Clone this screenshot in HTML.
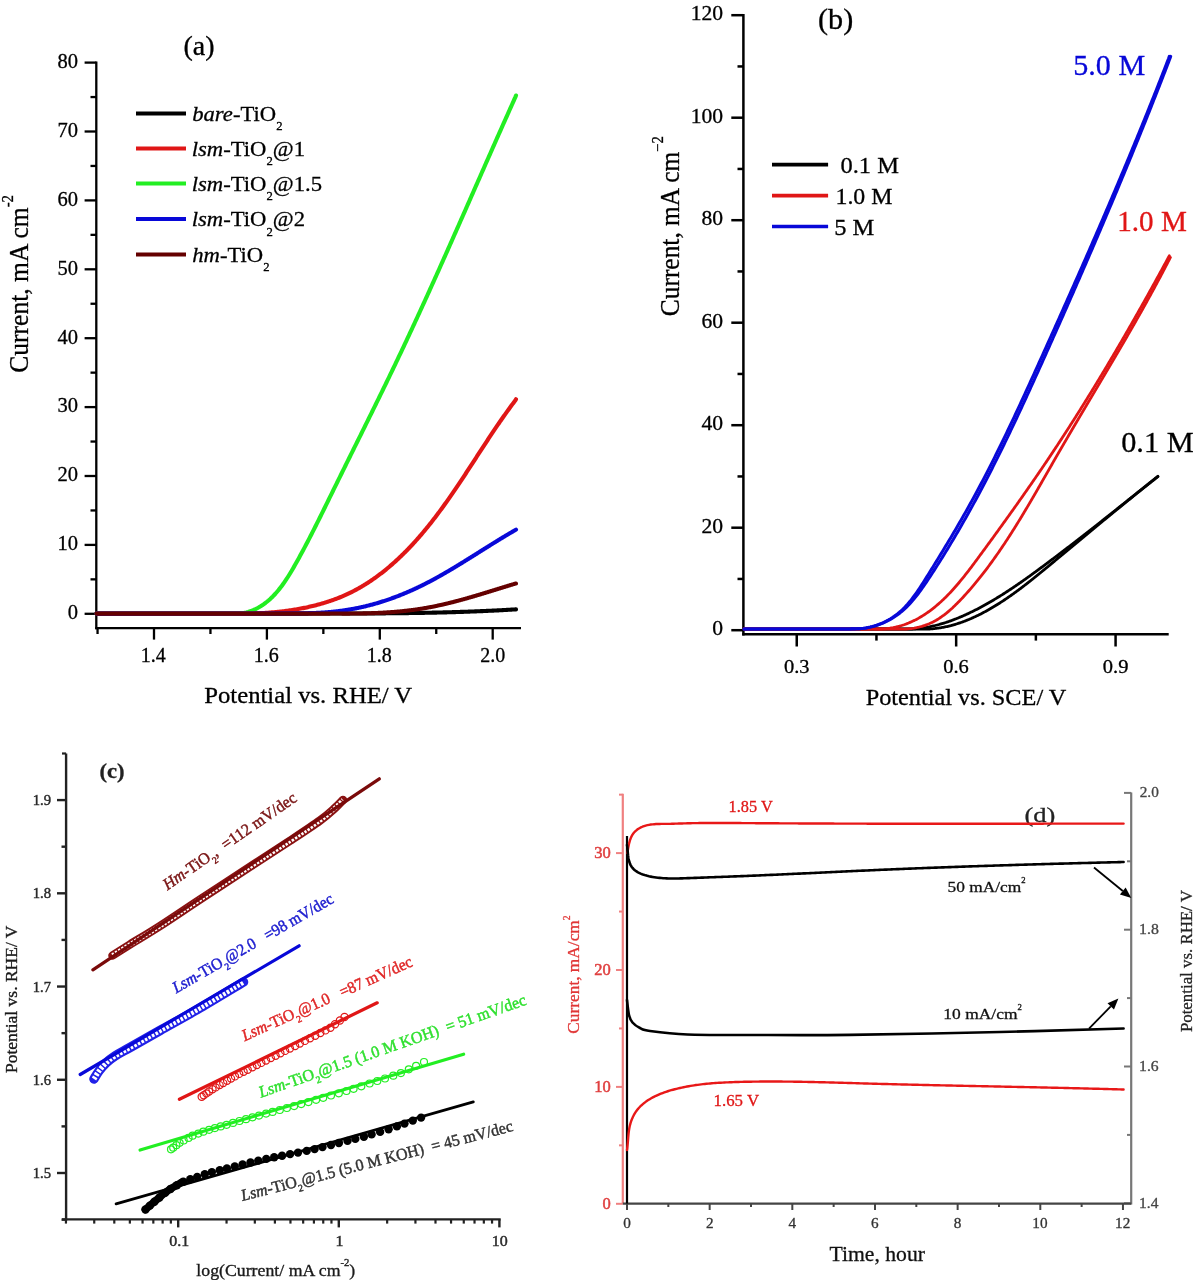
<!DOCTYPE html>
<html><head><meta charset="utf-8"><style>
html,body{margin:0;padding:0;background:#fff;}
body{width:1198px;height:1280px;overflow:hidden;}
svg{display:block;font-family:"Liberation Serif",serif;filter:blur(0.4px);}
</style></head><body>
<svg width="1198" height="1280" viewBox="0 0 1198 1280">
<rect width="1198" height="1280" fill="#fff"/>
<line x1="96.30" y1="61.50" x2="96.30" y2="629.30" stroke="#000" stroke-width="2.3" stroke-linecap="butt" />
<line x1="95.20" y1="628.20" x2="521.00" y2="628.20" stroke="#000" stroke-width="2.3" stroke-linecap="butt" />
<line x1="84.60" y1="613.80" x2="96.30" y2="613.80" stroke="#000" stroke-width="2.3" stroke-linecap="butt" />
<line x1="84.60" y1="544.90" x2="96.30" y2="544.90" stroke="#000" stroke-width="2.3" stroke-linecap="butt" />
<line x1="84.60" y1="476.00" x2="96.30" y2="476.00" stroke="#000" stroke-width="2.3" stroke-linecap="butt" />
<line x1="84.60" y1="407.10" x2="96.30" y2="407.10" stroke="#000" stroke-width="2.3" stroke-linecap="butt" />
<line x1="84.60" y1="338.20" x2="96.30" y2="338.20" stroke="#000" stroke-width="2.3" stroke-linecap="butt" />
<line x1="84.60" y1="269.30" x2="96.30" y2="269.30" stroke="#000" stroke-width="2.3" stroke-linecap="butt" />
<line x1="84.60" y1="200.40" x2="96.30" y2="200.40" stroke="#000" stroke-width="2.3" stroke-linecap="butt" />
<line x1="84.60" y1="131.50" x2="96.30" y2="131.50" stroke="#000" stroke-width="2.3" stroke-linecap="butt" />
<line x1="84.60" y1="62.60" x2="96.30" y2="62.60" stroke="#000" stroke-width="2.3" stroke-linecap="butt" />
<line x1="90.50" y1="579.35" x2="96.30" y2="579.35" stroke="#000" stroke-width="2.3" stroke-linecap="butt" />
<line x1="90.50" y1="510.45" x2="96.30" y2="510.45" stroke="#000" stroke-width="2.3" stroke-linecap="butt" />
<line x1="90.50" y1="441.55" x2="96.30" y2="441.55" stroke="#000" stroke-width="2.3" stroke-linecap="butt" />
<line x1="90.50" y1="372.65" x2="96.30" y2="372.65" stroke="#000" stroke-width="2.3" stroke-linecap="butt" />
<line x1="90.50" y1="303.75" x2="96.30" y2="303.75" stroke="#000" stroke-width="2.3" stroke-linecap="butt" />
<line x1="90.50" y1="234.85" x2="96.30" y2="234.85" stroke="#000" stroke-width="2.3" stroke-linecap="butt" />
<line x1="90.50" y1="165.95" x2="96.30" y2="165.95" stroke="#000" stroke-width="2.3" stroke-linecap="butt" />
<line x1="90.50" y1="97.05" x2="96.30" y2="97.05" stroke="#000" stroke-width="2.3" stroke-linecap="butt" />
<line x1="154.00" y1="628.20" x2="154.00" y2="639.60" stroke="#000" stroke-width="2.3" stroke-linecap="butt" />
<line x1="266.90" y1="628.20" x2="266.90" y2="639.60" stroke="#000" stroke-width="2.3" stroke-linecap="butt" />
<line x1="379.80" y1="628.20" x2="379.80" y2="639.60" stroke="#000" stroke-width="2.3" stroke-linecap="butt" />
<line x1="492.70" y1="628.20" x2="492.70" y2="639.60" stroke="#000" stroke-width="2.3" stroke-linecap="butt" />
<line x1="97.55" y1="628.20" x2="97.55" y2="634.00" stroke="#000" stroke-width="2.3" stroke-linecap="butt" />
<line x1="210.45" y1="628.20" x2="210.45" y2="634.00" stroke="#000" stroke-width="2.3" stroke-linecap="butt" />
<line x1="323.35" y1="628.20" x2="323.35" y2="634.00" stroke="#000" stroke-width="2.3" stroke-linecap="butt" />
<line x1="436.25" y1="628.20" x2="436.25" y2="634.00" stroke="#000" stroke-width="2.3" stroke-linecap="butt" />
<text transform="translate(68.69,619.12) scale(1.0000,1) translate(-0.82,0)" font-size="20.50" fill="#000" stroke="#000" stroke-width="0.3"><tspan >0</tspan></text>
<text transform="translate(59.36,550.22) scale(1.0000,1) translate(-1.74,0)" font-size="20.50" fill="#000" stroke="#000" stroke-width="0.3"><tspan >10</tspan></text>
<text transform="translate(58.54,481.32) scale(1.0000,1) translate(-0.92,0)" font-size="20.50" fill="#000" stroke="#000" stroke-width="0.3"><tspan >20</tspan></text>
<text transform="translate(58.54,412.42) scale(1.0000,1) translate(-0.92,0)" font-size="20.50" fill="#000" stroke="#000" stroke-width="0.3"><tspan >30</tspan></text>
<text transform="translate(58.03,343.52) scale(1.0000,1) translate(-0.41,0)" font-size="20.50" fill="#000" stroke="#000" stroke-width="0.3"><tspan >40</tspan></text>
<text transform="translate(58.85,274.62) scale(1.0000,1) translate(-1.23,0)" font-size="20.50" fill="#000" stroke="#000" stroke-width="0.3"><tspan >50</tspan></text>
<text transform="translate(58.44,205.72) scale(1.0000,1) translate(-0.82,0)" font-size="20.50" fill="#000" stroke="#000" stroke-width="0.3"><tspan >60</tspan></text>
<text transform="translate(58.95,136.82) scale(1.0000,1) translate(-1.33,0)" font-size="20.50" fill="#000" stroke="#000" stroke-width="0.3"><tspan >70</tspan></text>
<text transform="translate(58.44,67.92) scale(1.0000,1) translate(-0.82,0)" font-size="20.50" fill="#000" stroke="#000" stroke-width="0.3"><tspan >80</tspan></text>
<text transform="translate(142.50,662.00) scale(1.0000,1) translate(-1.70,0)" font-size="20.00" fill="#000" stroke="#000" stroke-width="0.3"><tspan >1.4</tspan></text>
<text transform="translate(255.55,662.00) scale(1.0000,1) translate(-1.70,0)" font-size="20.00" fill="#000" stroke="#000" stroke-width="0.3"><tspan >1.6</tspan></text>
<text transform="translate(368.55,662.00) scale(1.0000,1) translate(-1.70,0)" font-size="20.00" fill="#000" stroke="#000" stroke-width="0.3"><tspan >1.8</tspan></text>
<text transform="translate(481.05,662.00) scale(1.0000,1) translate(-0.90,0)" font-size="20.00" fill="#000" stroke="#000" stroke-width="0.3"><tspan >2.0</tspan></text>
<text transform="translate(205.00,702.60) scale(1.0373,1) translate(-0.71,0)" font-size="23.80" fill="#000" stroke="#000" stroke-width="0.3"><tspan >Potential vs. RHE/ V</tspan></text>
<text transform="translate(28.40,371.80) rotate(-90.00) scale(0.9300,1) translate(-1.10,0)" font-size="27.50" fill="#000" stroke="#000" stroke-width="0.3"><tspan >Current, mA cm</tspan><tspan font-size="15.95" dy="-15.13">-2</tspan></text>
<text transform="translate(184.70,55.30) scale(1.0385,1) translate(-1.21,0)" font-size="27.00" fill="#000" stroke="#000" stroke-width="0.3"><tspan >(a)</tspan></text>
<line x1="136.00" y1="113.60" x2="186.00" y2="113.60" stroke="#000" stroke-width="4" stroke-linecap="butt" />
<text transform="translate(193.00,121.00) scale(1.0300,1) translate(-0.77,0)" font-size="22.00" fill="#000" stroke="#000" stroke-width="0.3"><tspan font-style="italic">bare</tspan><tspan >-TiO</tspan><tspan font-size="12.32" dy="9.24">2</tspan></text>
<line x1="136.00" y1="148.60" x2="186.00" y2="148.60" stroke="#e01616" stroke-width="4" stroke-linecap="butt" />
<text transform="translate(193.00,156.00) scale(1.0300,1) translate(-1.21,0)" font-size="22.00" fill="#000" stroke="#000" stroke-width="0.3"><tspan font-style="italic">lsm</tspan><tspan >-TiO</tspan><tspan font-size="12.32" dy="9.24">2</tspan><tspan dy="-9.24">@1</tspan></text>
<line x1="136.00" y1="183.40" x2="186.00" y2="183.40" stroke="#22ee22" stroke-width="4" stroke-linecap="butt" />
<text transform="translate(193.00,190.80) scale(1.0300,1) translate(-1.21,0)" font-size="22.00" fill="#000" stroke="#000" stroke-width="0.3"><tspan font-style="italic">lsm</tspan><tspan >-TiO</tspan><tspan font-size="12.32" dy="9.24">2</tspan><tspan dy="-9.24">@1.5</tspan></text>
<line x1="136.00" y1="219.00" x2="186.00" y2="219.00" stroke="#0808d8" stroke-width="4" stroke-linecap="butt" />
<text transform="translate(193.00,226.40) scale(1.0300,1) translate(-1.21,0)" font-size="22.00" fill="#000" stroke="#000" stroke-width="0.3"><tspan font-style="italic">lsm</tspan><tspan >-TiO</tspan><tspan font-size="12.32" dy="9.24">2</tspan><tspan dy="-9.24">@2</tspan></text>
<line x1="136.00" y1="254.40" x2="186.00" y2="254.40" stroke="#640000" stroke-width="4" stroke-linecap="butt" />
<text transform="translate(193.00,261.80) scale(1.0300,1) translate(-0.77,0)" font-size="22.00" fill="#000" stroke="#000" stroke-width="0.3"><tspan font-style="italic">hm</tspan><tspan >-TiO</tspan><tspan font-size="12.32" dy="9.24">2</tspan></text>
<path d="M96.50,613.60 L300.00,613.60 L300.00,613.60 L300.72,613.59 L301.45,613.59 L302.17,613.58 L302.89,613.58 L303.61,613.58 L304.34,613.58 L305.06,613.58 L305.78,613.58 L306.50,613.58 L307.23,613.58 L307.95,613.58 L308.67,613.57 L309.39,613.57 L310.12,613.57 L310.84,613.57 L311.56,613.57 L312.29,613.57 L313.01,613.57 L313.73,613.57 L314.45,613.57 L315.18,613.57 L315.90,613.57 L316.62,613.56 L317.34,613.56 L318.07,613.56 L318.79,613.56 L319.51,613.56 L320.23,613.56 L320.96,613.56 L321.68,613.56 L322.40,613.56 L323.13,613.56 L323.85,613.56 L324.57,613.55 L325.29,613.55 L326.02,613.55 L326.74,613.55 L327.46,613.55 L328.18,613.55 L328.91,613.55 L329.63,613.55 L330.35,613.55 L331.07,613.55 L331.80,613.54 L332.52,613.54 L333.24,613.54 L333.97,613.54 L334.69,613.54 L335.41,613.54 L336.13,613.54 L336.86,613.54 L337.58,613.54 L338.30,613.53 L339.02,613.53 L339.75,613.53 L340.47,613.53 L341.19,613.53 L341.91,613.53 L342.64,613.53 L343.36,613.52 L344.08,613.52 L344.81,613.52 L345.53,613.52 L346.25,613.52 L346.97,613.52 L347.70,613.51 L348.42,613.51 L349.14,613.51 L349.86,613.51 L350.59,613.51 L351.31,613.50 L352.03,613.50 L352.76,613.50 L353.48,613.50 L354.20,613.50 L354.92,613.49 L355.65,613.49 L356.37,613.49 L357.09,613.49 L357.81,613.48 L358.54,613.48 L359.26,613.48 L359.98,613.48 L360.70,613.47 L361.43,613.47 L362.15,613.47 L362.87,613.46 L363.60,613.46 L364.32,613.46 L365.04,613.46 L365.76,613.45 L366.49,613.45 L367.21,613.45 L367.93,613.44 L368.65,613.44 L369.38,613.43 L370.10,613.43 L370.82,613.43 L371.54,613.42 L372.27,613.42 L372.99,613.41 L373.71,613.41 L374.44,613.41 L375.16,613.40 L375.88,613.40 L376.60,613.39 L377.33,613.39 L378.05,613.38 L378.77,613.38 L379.49,613.37 L380.22,613.37 L380.94,613.36 L381.66,613.36 L382.38,613.35 L383.11,613.35 L383.83,613.34 L384.55,613.34 L385.28,613.33 L386.00,613.32 L386.72,613.32 L387.44,613.31 L388.17,613.31 L388.89,613.30 L389.61,613.29 L390.33,613.29 L391.06,613.28 L391.78,613.27 L392.50,613.27 L393.22,613.26 L393.95,613.25 L394.67,613.25 L395.39,613.24 L396.11,613.23 L396.84,613.22 L397.56,613.22 L398.28,613.21 L399.00,613.20 L399.73,613.19 L400.45,613.18 L401.17,613.17 L401.89,613.17 L402.62,613.16 L403.34,613.15 L404.06,613.14 L404.79,613.13 L405.51,613.12 L406.23,613.11 L406.95,613.10 L407.68,613.09 L408.40,613.08 L409.12,613.07 L409.84,613.06 L410.57,613.05 L411.29,613.04 L412.01,613.03 L412.73,613.02 L413.46,613.01 L414.18,613.00 L414.90,612.99 L415.62,612.98 L416.35,612.97 L417.07,612.95 L417.79,612.94 L418.51,612.93 L419.24,612.92 L419.96,612.91 L420.68,612.89 L421.40,612.88 L422.13,612.87 L422.85,612.85 L423.57,612.84 L424.29,612.83 L425.02,612.82 L425.74,612.80 L426.46,612.79 L427.18,612.77 L427.91,612.76 L428.63,612.75 L429.35,612.73 L430.07,612.72 L430.79,612.70 L431.52,612.69 L432.24,612.67 L432.96,612.66 L433.68,612.64 L434.41,612.62 L435.13,612.61 L435.85,612.59 L436.57,612.58 L437.30,612.56 L438.02,612.54 L438.74,612.53 L439.46,612.51 L440.19,612.49 L440.91,612.47 L441.63,612.46 L442.35,612.44 L443.08,612.42 L443.80,612.40 L444.52,612.38 L445.24,612.36 L445.96,612.35 L446.69,612.33 L447.41,612.31 L448.13,612.29 L448.85,612.27 L449.58,612.25 L450.30,612.23 L451.02,612.21 L451.74,612.19 L452.47,612.17 L453.19,612.14 L453.91,612.12 L454.63,612.10 L455.35,612.08 L456.08,612.06 L456.80,612.04 L457.52,612.01 L458.24,611.99 L458.97,611.97 L459.69,611.95 L460.41,611.92 L461.13,611.90 L461.85,611.87 L462.58,611.85 L463.30,611.83 L464.02,611.80 L464.74,611.78 L465.47,611.75 L466.19,611.73 L466.91,611.70 L467.63,611.68 L468.35,611.65 L469.08,611.62 L469.80,611.60 L470.52,611.57 L471.24,611.54 L471.96,611.52 L472.69,611.49 L473.41,611.46 L474.13,611.43 L474.85,611.41 L475.57,611.38 L476.30,611.35 L477.02,611.32 L477.74,611.29 L478.46,611.26 L479.19,611.23 L479.91,611.20 L480.63,611.17 L481.35,611.14 L482.07,611.11 L482.80,611.08 L483.52,611.05 L484.24,611.02 L484.96,610.99 L485.68,610.95 L486.41,610.92 L487.13,610.89 L487.85,610.86 L488.57,610.82 L489.29,610.79 L490.01,610.76 L490.74,610.72 L491.46,610.69 L492.18,610.65 L492.90,610.62 L493.62,610.58 L494.35,610.55 L495.07,610.51 L495.79,610.48 L496.51,610.44 L497.23,610.40 L497.96,610.37 L498.68,610.33 L499.40,610.29 L500.12,610.25 L500.84,610.22 L501.56,610.18 L502.29,610.14 L503.01,610.10 L503.73,610.06 L504.45,610.02 L505.17,609.98 L505.90,609.94 L506.62,609.90 L507.34,609.86 L508.06,609.82 L508.78,609.78 L509.50,609.74 L510.23,609.69 L510.95,609.65 L511.67,609.61 L512.39,609.57 L513.11,609.52 L513.83,609.48 L514.56,609.44 L515.28,609.39 L516.00,609.40" fill="none" stroke="#000" stroke-width="4.1" stroke-linecap="round" stroke-linejoin="round" />
<path d="M96.50,613.60 L232.00,613.60 L232.00,613.60 L233.98,613.61 L236.11,613.63 L238.21,613.56 L240.27,613.40 L242.29,613.15 L244.28,612.81 L246.23,612.39 L248.15,611.89 L250.03,611.30 L251.88,610.65 L253.69,609.92 L255.47,609.11 L257.21,608.24 L258.92,607.31 L260.59,606.31 L262.24,605.26 L263.85,604.14 L265.42,602.98 L266.97,601.76 L268.48,600.49 L269.96,599.18 L271.41,597.82 L272.83,596.42 L274.21,594.98 L275.57,593.51 L276.89,592.01 L278.19,590.47 L279.46,588.90 L280.71,587.31 L281.93,585.69 L283.12,584.04 L284.30,582.37 L285.45,580.68 L286.59,578.97 L287.70,577.25 L288.80,575.51 L289.88,573.75 L290.95,571.99 L292.00,570.21 L293.04,568.42 L294.07,566.63 L295.09,564.84 L296.11,563.04 L297.11,561.24 L298.11,559.44 L299.10,557.64 L300.08,555.84 L301.06,554.04 L302.03,552.24 L303.00,550.44 L303.96,548.64 L304.92,546.84 L305.87,545.04 L306.81,543.24 L307.76,541.44 L308.69,539.64 L309.62,537.84 L310.55,536.04 L311.48,534.24 L312.40,532.44 L313.31,530.64 L314.22,528.84 L315.13,527.04 L316.04,525.23 L316.94,523.43 L317.84,521.63 L318.74,519.83 L319.64,518.03 L320.53,516.23 L321.43,514.43 L322.32,512.63 L323.20,510.82 L324.09,509.02 L324.98,507.22 L325.86,505.42 L326.75,503.62 L327.63,501.81 L328.52,500.01 L329.40,498.21 L330.28,496.41 L331.17,494.60 L332.05,492.80 L332.94,491.00 L333.82,489.20 L334.71,487.39 L335.59,485.59 L336.48,483.79 L337.37,481.98 L338.26,480.18 L339.15,478.38 L340.04,476.57 L340.93,474.77 L341.82,472.97 L342.71,471.16 L343.60,469.36 L344.50,467.55 L345.39,465.75 L346.28,463.94 L347.18,462.14 L348.07,460.33 L348.96,458.53 L349.86,456.72 L350.75,454.92 L351.65,453.11 L352.54,451.31 L353.44,449.50 L354.34,447.69 L355.23,445.89 L356.13,444.08 L357.02,442.27 L357.92,440.47 L358.82,438.66 L359.71,436.85 L360.61,435.04 L361.50,433.23 L362.40,431.43 L363.29,429.62 L364.19,427.81 L365.09,426.00 L365.98,424.19 L366.88,422.38 L367.77,420.57 L368.66,418.76 L369.56,416.95 L370.45,415.14 L371.35,413.32 L372.24,411.51 L373.13,409.70 L374.02,407.89 L374.92,406.08 L375.81,404.26 L376.70,402.45 L377.59,400.64 L378.48,398.82 L379.37,397.01 L380.25,395.19 L381.14,393.38 L382.03,391.56 L382.92,389.74 L383.80,387.93 L384.69,386.11 L385.57,384.29 L386.45,382.48 L387.33,380.66 L388.22,378.84 L389.10,377.02 L389.98,375.20 L390.85,373.38 L391.73,371.56 L392.61,369.74 L393.48,367.92 L394.36,366.10 L395.23,364.28 L396.10,362.46 L396.98,360.63 L397.85,358.81 L398.71,356.99 L399.58,355.16 L400.45,353.34 L401.31,351.51 L402.18,349.69 L403.04,347.86 L403.90,346.03 L404.76,344.21 L405.62,342.38 L406.48,340.55 L407.34,338.72 L408.19,336.89 L409.05,335.06 L409.90,333.23 L410.76,331.40 L411.61,329.57 L412.46,327.74 L413.31,325.91 L414.16,324.08 L415.00,322.25 L415.85,320.42 L416.70,318.58 L417.54,316.75 L418.39,314.92 L419.23,313.08 L420.07,311.25 L420.91,309.41 L421.75,307.58 L422.59,305.74 L423.43,303.91 L424.27,302.07 L425.11,300.24 L425.94,298.40 L426.78,296.56 L427.61,294.72 L428.45,292.89 L429.28,291.05 L430.11,289.21 L430.95,287.37 L431.78,285.53 L432.61,283.69 L433.44,281.85 L434.27,280.02 L435.09,278.18 L435.92,276.34 L436.75,274.49 L437.57,272.65 L438.40,270.81 L439.23,268.97 L440.05,267.13 L440.87,265.29 L441.70,263.45 L442.52,261.60 L443.34,259.76 L444.17,257.92 L444.99,256.08 L445.81,254.23 L446.63,252.39 L447.45,250.55 L448.27,248.70 L449.09,246.86 L449.91,245.02 L450.72,243.17 L451.54,241.33 L452.36,239.48 L453.18,237.64 L453.99,235.79 L454.81,233.95 L455.63,232.10 L456.44,230.26 L457.26,228.41 L458.07,226.57 L458.89,224.72 L459.70,222.88 L460.52,221.03 L461.33,219.19 L462.15,217.34 L462.96,215.49 L463.77,213.65 L464.59,211.80 L465.40,209.96 L466.21,208.11 L467.03,206.26 L467.84,204.42 L468.65,202.57 L469.47,200.72 L470.28,198.88 L471.09,197.03 L471.90,195.18 L472.72,193.34 L473.53,191.49 L474.34,189.64 L475.15,187.79 L475.97,185.95 L476.78,184.10 L477.59,182.25 L478.41,180.41 L479.22,178.56 L480.03,176.71 L480.84,174.87 L481.66,173.02 L482.47,171.17 L483.28,169.32 L484.10,167.48 L484.91,165.63 L485.72,163.78 L486.54,161.94 L487.35,160.09 L488.17,158.24 L488.98,156.40 L489.80,154.55 L490.61,152.70 L491.43,150.86 L492.24,149.01 L493.06,147.17 L493.87,145.32 L494.69,143.47 L495.51,141.63 L496.33,139.78 L497.14,137.94 L497.96,136.09 L498.78,134.25 L499.60,132.40 L500.42,130.56 L501.24,128.71 L502.06,126.87 L502.88,125.02 L503.70,123.18 L504.52,121.33 L505.34,119.49 L506.17,117.64 L506.99,115.80 L507.81,113.96 L508.64,112.11 L509.46,110.27 L510.29,108.43 L511.11,106.58 L511.94,104.74 L512.77,102.90 L513.59,101.06 L514.42,99.21 L515.25,97.37 L516.00,95.50" fill="none" stroke="#22ee22" stroke-width="4.1" stroke-linecap="round" stroke-linejoin="round" />
<path d="M96.50,613.60 L250.00,613.60 L250.00,613.60 L251.21,613.54 L252.41,613.51 L253.61,613.47 L254.81,613.42 L256.01,613.38 L257.21,613.33 L258.42,613.27 L259.62,613.21 L260.83,613.15 L262.03,613.09 L263.24,613.02 L264.45,612.94 L265.66,612.87 L266.87,612.78 L268.08,612.70 L269.29,612.61 L270.50,612.51 L271.71,612.41 L272.92,612.31 L274.13,612.20 L275.34,612.09 L276.55,611.97 L277.76,611.85 L278.97,611.72 L280.19,611.59 L281.40,611.46 L282.61,611.32 L283.82,611.17 L285.03,611.02 L286.24,610.86 L287.44,610.70 L288.65,610.54 L289.86,610.36 L291.06,610.19 L292.27,610.01 L293.47,609.82 L294.68,609.62 L295.88,609.43 L297.08,609.22 L298.28,609.01 L299.48,608.80 L300.68,608.58 L301.87,608.35 L303.07,608.12 L304.26,607.88 L305.45,607.64 L306.64,607.39 L307.83,607.13 L309.02,606.87 L310.20,606.60 L311.38,606.32 L312.56,606.04 L313.74,605.75 L314.92,605.46 L316.09,605.16 L317.26,604.85 L318.43,604.54 L319.60,604.22 L320.76,603.89 L321.92,603.56 L323.08,603.22 L324.24,602.87 L325.39,602.52 L326.54,602.16 L327.69,601.79 L328.83,601.42 L329.98,601.03 L331.11,600.65 L332.25,600.25 L333.38,599.85 L334.51,599.43 L335.64,599.02 L336.76,598.59 L337.88,598.16 L338.99,597.72 L340.10,597.27 L341.21,596.81 L342.31,596.35 L343.41,595.88 L344.51,595.40 L345.60,594.91 L346.69,594.41 L347.77,593.91 L348.85,593.40 L349.92,592.88 L350.99,592.35 L352.06,591.82 L353.12,591.28 L354.18,590.73 L355.24,590.17 L356.29,589.61 L357.33,589.03 L358.38,588.45 L359.41,587.87 L360.45,587.27 L361.48,586.67 L362.50,586.06 L363.53,585.45 L364.54,584.83 L365.56,584.20 L366.57,583.56 L367.57,582.92 L368.58,582.27 L369.57,581.61 L370.57,580.95 L371.56,580.28 L372.55,579.61 L373.53,578.93 L374.51,578.24 L375.48,577.55 L376.45,576.85 L377.42,576.14 L378.38,575.43 L379.34,574.72 L380.30,573.99 L381.25,573.26 L382.20,572.53 L383.14,571.79 L384.08,571.04 L385.02,570.29 L385.95,569.54 L386.88,568.78 L387.80,568.01 L388.73,567.24 L389.64,566.46 L390.56,565.68 L391.47,564.89 L392.37,564.10 L393.28,563.31 L394.18,562.50 L395.07,561.70 L395.96,560.89 L396.85,560.07 L397.74,559.25 L398.62,558.43 L399.49,557.60 L400.37,556.77 L401.24,555.93 L402.10,555.09 L402.97,554.25 L403.83,553.40 L404.68,552.55 L405.53,551.69 L406.38,550.83 L407.23,549.97 L408.07,549.10 L408.91,548.23 L409.74,547.36 L410.57,546.48 L411.40,545.60 L412.23,544.72 L413.05,543.83 L413.86,542.94 L414.68,542.04 L415.49,541.15 L416.30,540.25 L417.10,539.35 L417.90,538.44 L418.70,537.53 L419.49,536.62 L420.28,535.71 L421.07,534.80 L421.85,533.88 L422.63,532.96 L423.41,532.03 L424.19,531.11 L424.96,530.18 L425.73,529.25 L426.49,528.31 L427.25,527.38 L428.02,526.44 L428.77,525.50 L429.53,524.56 L430.28,523.61 L431.03,522.66 L431.78,521.72 L432.52,520.76 L433.26,519.81 L434.00,518.85 L434.74,517.90 L435.47,516.94 L436.20,515.97 L436.93,515.01 L437.66,514.05 L438.38,513.08 L439.11,512.11 L439.83,511.14 L440.54,510.16 L441.26,509.19 L441.97,508.21 L442.69,507.24 L443.40,506.26 L444.10,505.28 L444.81,504.29 L445.51,503.31 L446.22,502.32 L446.92,501.34 L447.61,500.35 L448.31,499.36 L449.01,498.37 L449.70,497.37 L450.39,496.38 L451.08,495.38 L451.77,494.39 L452.46,493.39 L453.15,492.39 L453.83,491.39 L454.51,490.39 L455.20,489.39 L455.88,488.39 L456.56,487.38 L457.23,486.38 L457.91,485.37 L458.59,484.37 L459.26,483.36 L459.93,482.35 L460.61,481.34 L461.28,480.33 L461.95,479.32 L462.62,478.31 L463.29,477.30 L463.96,476.29 L464.62,475.27 L465.29,474.26 L465.96,473.25 L466.62,472.23 L467.29,471.22 L467.95,470.20 L468.62,469.19 L469.28,468.17 L469.94,467.16 L470.60,466.14 L471.27,465.12 L471.93,464.11 L472.59,463.09 L473.25,462.07 L473.91,461.06 L474.57,460.04 L475.23,459.02 L475.89,458.01 L476.55,456.99 L477.21,455.97 L477.87,454.96 L478.53,453.94 L479.19,452.92 L479.86,451.91 L480.52,450.89 L481.18,449.88 L481.84,448.86 L482.50,447.85 L483.16,446.84 L483.82,445.82 L484.49,444.81 L485.15,443.80 L485.81,442.78 L486.48,441.77 L487.14,440.76 L487.81,439.75 L488.48,438.74 L489.14,437.73 L489.81,436.73 L490.48,435.72 L491.15,434.71 L491.82,433.71 L492.49,432.70 L493.16,431.70 L493.83,430.70 L494.51,429.69 L495.18,428.69 L495.86,427.70 L496.54,426.70 L497.21,425.70 L497.89,424.70 L498.58,423.71 L499.26,422.72 L499.94,421.72 L500.63,420.73 L501.31,419.74 L502.00,418.75 L502.69,417.77 L503.38,416.78 L504.07,415.80 L504.77,414.82 L505.46,413.84 L506.16,412.86 L506.86,411.88 L507.56,410.90 L508.26,409.93 L508.97,408.96 L509.67,407.99 L510.38,407.02 L511.09,406.05 L511.80,405.09 L512.52,404.12 L513.23,403.16 L513.95,402.20 L514.67,401.25 L515.40,400.29 L516.00,399.20" fill="none" stroke="#e01616" stroke-width="4.1" stroke-linecap="round" stroke-linejoin="round" />
<path d="M96.50,613.60 L300.00,613.40 L300.00,613.40 L300.75,613.22 L301.54,613.23 L302.34,613.23 L303.13,613.23 L303.92,613.22 L304.72,613.22 L305.51,613.21 L306.30,613.21 L307.09,613.20 L307.89,613.18 L308.68,613.17 L309.47,613.15 L310.26,613.13 L311.05,613.11 L311.85,613.09 L312.64,613.07 L313.43,613.04 L314.22,613.01 L315.01,612.98 L315.80,612.95 L316.59,612.92 L317.39,612.88 L318.18,612.84 L318.97,612.80 L319.76,612.76 L320.55,612.71 L321.34,612.67 L322.12,612.62 L322.91,612.57 L323.70,612.51 L324.49,612.46 L325.28,612.40 L326.07,612.34 L326.86,612.28 L327.64,612.22 L328.43,612.15 L329.22,612.08 L330.00,612.01 L330.79,611.94 L331.58,611.86 L332.36,611.78 L333.15,611.70 L333.93,611.62 L334.72,611.54 L335.50,611.45 L336.28,611.36 L337.07,611.27 L337.85,611.18 L338.63,611.08 L339.41,610.98 L340.20,610.88 L340.98,610.78 L341.76,610.68 L342.54,610.57 L343.32,610.46 L344.10,610.35 L344.88,610.23 L345.65,610.11 L346.43,609.99 L347.21,609.87 L347.99,609.75 L348.76,609.62 L349.54,609.49 L350.31,609.36 L351.09,609.23 L351.86,609.09 L352.63,608.95 L353.41,608.81 L354.18,608.67 L354.95,608.52 L355.72,608.37 L356.49,608.22 L357.26,608.06 L358.03,607.91 L358.80,607.75 L359.57,607.59 L360.34,607.42 L361.10,607.25 L361.87,607.08 L362.63,606.91 L363.40,606.74 L364.16,606.56 L364.93,606.38 L365.69,606.20 L366.45,606.01 L367.21,605.82 L367.97,605.63 L368.73,605.44 L369.49,605.25 L370.25,605.05 L371.01,604.85 L371.77,604.65 L372.52,604.44 L373.28,604.24 L374.03,604.03 L374.79,603.81 L375.54,603.60 L376.30,603.38 L377.05,603.16 L377.80,602.94 L378.55,602.72 L379.30,602.49 L380.05,602.26 L380.80,602.03 L381.55,601.80 L382.30,601.56 L383.04,601.32 L383.79,601.08 L384.53,600.84 L385.28,600.60 L386.02,600.35 L386.77,600.10 L387.51,599.85 L388.25,599.59 L388.99,599.34 L389.73,599.08 L390.47,598.82 L391.21,598.56 L391.95,598.29 L392.69,598.02 L393.42,597.75 L394.16,597.48 L394.90,597.21 L395.63,596.93 L396.36,596.65 L397.10,596.37 L397.83,596.09 L398.56,595.81 L399.29,595.52 L400.02,595.23 L400.75,594.94 L401.48,594.65 L402.21,594.35 L402.94,594.06 L403.66,593.76 L404.39,593.46 L405.11,593.15 L405.84,592.85 L406.56,592.54 L407.29,592.23 L408.01,591.92 L408.73,591.61 L409.45,591.29 L410.17,590.97 L410.89,590.65 L411.61,590.33 L412.32,590.01 L413.04,589.68 L413.76,589.36 L414.47,589.03 L415.19,588.70 L415.90,588.37 L416.61,588.03 L417.33,587.69 L418.04,587.36 L418.75,587.02 L419.46,586.67 L420.17,586.33 L420.87,585.98 L421.58,585.64 L422.29,585.29 L422.99,584.94 L423.70,584.58 L424.40,584.23 L425.11,583.87 L425.81,583.51 L426.51,583.15 L427.21,582.79 L427.91,582.43 L428.61,582.07 L429.31,581.70 L430.01,581.33 L430.71,580.96 L431.41,580.59 L432.11,580.22 L432.80,579.85 L433.50,579.47 L434.19,579.09 L434.89,578.72 L435.58,578.34 L436.27,577.96 L436.96,577.57 L437.66,577.19 L438.35,576.81 L439.04,576.42 L439.73,576.03 L440.42,575.65 L441.11,575.26 L441.79,574.87 L442.48,574.47 L443.17,574.08 L443.86,573.69 L444.54,573.29 L445.23,572.89 L445.91,572.50 L446.60,572.10 L447.28,571.70 L447.97,571.30 L448.65,570.90 L449.33,570.50 L450.02,570.09 L450.70,569.69 L451.38,569.28 L452.06,568.88 L452.74,568.47 L453.42,568.06 L454.10,567.66 L454.78,567.25 L455.46,566.84 L456.14,566.43 L456.82,566.02 L457.49,565.60 L458.17,565.19 L458.85,564.78 L459.53,564.36 L460.20,563.95 L460.88,563.53 L461.56,563.12 L462.23,562.70 L462.91,562.29 L463.58,561.87 L464.26,561.45 L464.93,561.03 L465.60,560.62 L466.28,560.20 L466.95,559.78 L467.63,559.36 L468.30,558.94 L468.97,558.52 L469.65,558.10 L470.32,557.68 L470.99,557.26 L471.66,556.84 L472.33,556.42 L473.01,555.99 L473.68,555.57 L474.35,555.15 L475.02,554.73 L475.69,554.31 L476.36,553.89 L477.03,553.46 L477.70,553.04 L478.38,552.62 L479.05,552.20 L479.72,551.78 L480.39,551.35 L481.06,550.93 L481.73,550.51 L482.40,550.09 L483.07,549.67 L483.74,549.25 L484.41,548.83 L485.08,548.41 L485.75,547.99 L486.42,547.56 L487.09,547.14 L487.76,546.73 L488.43,546.31 L489.10,545.89 L489.77,545.47 L490.44,545.05 L491.11,544.63 L491.78,544.22 L492.45,543.80 L493.12,543.38 L493.79,542.97 L494.46,542.55 L495.13,542.14 L495.80,541.72 L496.47,541.31 L497.14,540.90 L497.81,540.48 L498.48,540.07 L499.15,539.66 L499.82,539.25 L500.49,538.84 L501.17,538.43 L501.84,538.02 L502.51,537.62 L503.18,537.21 L503.85,536.80 L504.53,536.40 L505.20,535.99 L505.87,535.59 L506.54,535.19 L507.22,534.79 L507.89,534.39 L508.56,533.99 L509.24,533.59 L509.91,533.19 L510.59,532.80 L511.26,532.40 L511.94,532.01 L512.61,531.62 L513.29,531.22 L513.96,530.83 L514.64,530.44 L515.32,530.06 L516.00,529.60" fill="none" stroke="#0808d8" stroke-width="4.1" stroke-linecap="round" stroke-linejoin="round" />
<path d="M96.50,613.60 L330.00,613.60 L330.00,613.60 L330.62,613.48 L331.26,613.49 L331.89,613.50 L332.53,613.51 L333.17,613.51 L333.80,613.52 L334.44,613.52 L335.07,613.53 L335.71,613.54 L336.34,613.54 L336.98,613.55 L337.61,613.55 L338.25,613.56 L338.88,613.56 L339.52,613.56 L340.15,613.57 L340.79,613.57 L341.43,613.57 L342.06,613.58 L342.70,613.58 L343.33,613.58 L343.97,613.58 L344.60,613.58 L345.24,613.58 L345.87,613.58 L346.51,613.58 L347.14,613.58 L347.78,613.58 L348.42,613.58 L349.05,613.58 L349.69,613.58 L350.32,613.57 L350.96,613.57 L351.59,613.57 L352.23,613.56 L352.86,613.56 L353.50,613.55 L354.14,613.55 L354.77,613.54 L355.41,613.54 L356.04,613.53 L356.68,613.52 L357.31,613.51 L357.95,613.50 L358.58,613.50 L359.22,613.49 L359.85,613.48 L360.49,613.47 L361.12,613.45 L361.76,613.44 L362.39,613.43 L363.03,613.42 L363.66,613.40 L364.30,613.39 L364.93,613.37 L365.57,613.36 L366.20,613.34 L366.84,613.33 L367.47,613.31 L368.11,613.29 L368.74,613.27 L369.37,613.25 L370.01,613.23 L370.64,613.21 L371.28,613.19 L371.91,613.17 L372.55,613.15 L373.18,613.13 L373.81,613.10 L374.45,613.08 L375.08,613.05 L375.72,613.03 L376.35,613.00 L376.98,612.97 L377.62,612.94 L378.25,612.91 L378.88,612.88 L379.52,612.85 L380.15,612.82 L380.78,612.79 L381.42,612.76 L382.05,612.72 L382.68,612.69 L383.31,612.65 L383.95,612.62 L384.58,612.58 L385.21,612.54 L385.84,612.50 L386.48,612.46 L387.11,612.42 L387.74,612.38 L388.37,612.34 L389.00,612.30 L389.64,612.25 L390.27,612.21 L390.90,612.16 L391.53,612.11 L392.16,612.07 L392.79,612.02 L393.42,611.97 L394.05,611.92 L394.69,611.87 L395.32,611.81 L395.95,611.76 L396.58,611.71 L397.21,611.65 L397.84,611.59 L398.47,611.54 L399.10,611.48 L399.73,611.42 L400.36,611.36 L400.99,611.30 L401.61,611.24 L402.24,611.17 L402.87,611.11 L403.50,611.04 L404.13,610.98 L404.76,610.91 L405.39,610.84 L406.02,610.77 L406.64,610.70 L407.27,610.63 L407.90,610.55 L408.53,610.48 L409.15,610.40 L409.78,610.33 L410.41,610.25 L411.04,610.17 L411.66,610.09 L412.29,610.01 L412.92,609.93 L413.54,609.85 L414.17,609.76 L414.79,609.68 L415.42,609.59 L416.05,609.50 L416.67,609.41 L417.30,609.32 L417.92,609.23 L418.55,609.14 L419.17,609.04 L419.79,608.95 L420.42,608.85 L421.04,608.75 L421.67,608.65 L422.29,608.55 L422.91,608.45 L423.54,608.35 L424.16,608.24 L424.78,608.14 L425.41,608.03 L426.03,607.92 L426.65,607.81 L427.27,607.70 L427.90,607.59 L428.52,607.48 L429.14,607.36 L429.76,607.25 L430.38,607.13 L431.00,607.01 L431.62,606.89 L432.24,606.77 L432.86,606.65 L433.48,606.52 L434.10,606.40 L434.72,606.27 L435.34,606.14 L435.96,606.02 L436.58,605.89 L437.20,605.76 L437.82,605.62 L438.44,605.49 L439.05,605.36 L439.67,605.22 L440.29,605.09 L440.91,604.95 L441.53,604.81 L442.14,604.67 L442.76,604.53 L443.38,604.39 L444.00,604.24 L444.61,604.10 L445.23,603.96 L445.85,603.81 L446.46,603.66 L447.08,603.52 L447.69,603.37 L448.31,603.22 L448.93,603.07 L449.54,602.92 L450.16,602.76 L450.77,602.61 L451.39,602.46 L452.00,602.30 L452.62,602.15 L453.23,601.99 L453.84,601.83 L454.46,601.67 L455.07,601.51 L455.69,601.35 L456.30,601.19 L456.91,601.03 L457.53,600.87 L458.14,600.71 L458.75,600.54 L459.37,600.38 L459.98,600.21 L460.59,600.05 L461.21,599.88 L461.82,599.71 L462.43,599.54 L463.04,599.37 L463.66,599.20 L464.27,599.03 L464.88,598.86 L465.49,598.69 L466.10,598.52 L466.71,598.35 L467.33,598.17 L467.94,598.00 L468.55,597.83 L469.16,597.65 L469.77,597.48 L470.38,597.30 L470.99,597.12 L471.60,596.95 L472.21,596.77 L472.82,596.59 L473.43,596.41 L474.04,596.23 L474.65,596.05 L475.26,595.87 L475.87,595.69 L476.48,595.51 L477.09,595.33 L477.70,595.15 L478.31,594.97 L478.92,594.78 L479.53,594.60 L480.14,594.42 L480.75,594.24 L481.36,594.05 L481.97,593.87 L482.58,593.68 L483.19,593.50 L483.79,593.31 L484.40,593.13 L485.01,592.94 L485.62,592.76 L486.23,592.57 L486.84,592.39 L487.44,592.20 L488.05,592.01 L488.66,591.83 L489.27,591.64 L489.88,591.45 L490.49,591.26 L491.09,591.08 L491.70,590.89 L492.31,590.70 L492.92,590.51 L493.52,590.33 L494.13,590.14 L494.74,589.95 L495.35,589.76 L495.95,589.57 L496.56,589.39 L497.17,589.20 L497.78,589.01 L498.38,588.82 L498.99,588.63 L499.60,588.44 L500.20,588.26 L500.81,588.07 L501.42,587.88 L502.02,587.69 L502.63,587.50 L503.24,587.32 L503.84,587.13 L504.45,586.94 L505.06,586.75 L505.66,586.57 L506.27,586.38 L506.88,586.19 L507.48,586.00 L508.09,585.82 L508.70,585.63 L509.30,585.44 L509.91,585.26 L510.52,585.07 L511.12,584.89 L511.73,584.70 L512.34,584.52 L512.94,584.33 L513.55,584.15 L514.16,583.96 L514.76,583.78 L515.37,583.59 L516.00,583.50" fill="none" stroke="#640000" stroke-width="4.1" stroke-linecap="round" stroke-linejoin="round" />
<line x1="743.40" y1="14.00" x2="743.40" y2="635.50" stroke="#000" stroke-width="2.5" stroke-linecap="butt" />
<line x1="742.20" y1="634.30" x2="1168.70" y2="634.30" stroke="#000" stroke-width="2.5" stroke-linecap="butt" />
<line x1="731.30" y1="630.20" x2="743.40" y2="630.20" stroke="#000" stroke-width="2.5" stroke-linecap="butt" />
<line x1="731.30" y1="527.70" x2="743.40" y2="527.70" stroke="#000" stroke-width="2.5" stroke-linecap="butt" />
<line x1="731.30" y1="425.20" x2="743.40" y2="425.20" stroke="#000" stroke-width="2.5" stroke-linecap="butt" />
<line x1="731.30" y1="322.70" x2="743.40" y2="322.70" stroke="#000" stroke-width="2.5" stroke-linecap="butt" />
<line x1="731.30" y1="220.20" x2="743.40" y2="220.20" stroke="#000" stroke-width="2.5" stroke-linecap="butt" />
<line x1="731.30" y1="117.70" x2="743.40" y2="117.70" stroke="#000" stroke-width="2.5" stroke-linecap="butt" />
<line x1="731.30" y1="15.20" x2="743.40" y2="15.20" stroke="#000" stroke-width="2.5" stroke-linecap="butt" />
<line x1="737.50" y1="578.95" x2="743.40" y2="578.95" stroke="#000" stroke-width="2.5" stroke-linecap="butt" />
<line x1="737.50" y1="476.45" x2="743.40" y2="476.45" stroke="#000" stroke-width="2.5" stroke-linecap="butt" />
<line x1="737.50" y1="373.95" x2="743.40" y2="373.95" stroke="#000" stroke-width="2.5" stroke-linecap="butt" />
<line x1="737.50" y1="271.45" x2="743.40" y2="271.45" stroke="#000" stroke-width="2.5" stroke-linecap="butt" />
<line x1="737.50" y1="168.95" x2="743.40" y2="168.95" stroke="#000" stroke-width="2.5" stroke-linecap="butt" />
<line x1="737.50" y1="66.45" x2="743.40" y2="66.45" stroke="#000" stroke-width="2.5" stroke-linecap="butt" />
<line x1="796.74" y1="634.30" x2="796.74" y2="646.50" stroke="#000" stroke-width="2.5" stroke-linecap="butt" />
<line x1="956.16" y1="634.30" x2="956.16" y2="646.50" stroke="#000" stroke-width="2.5" stroke-linecap="butt" />
<line x1="1115.58" y1="634.30" x2="1115.58" y2="646.50" stroke="#000" stroke-width="2.5" stroke-linecap="butt" />
<line x1="876.45" y1="634.30" x2="876.45" y2="640.60" stroke="#000" stroke-width="2.5" stroke-linecap="butt" />
<line x1="1035.87" y1="634.30" x2="1035.87" y2="640.60" stroke="#000" stroke-width="2.5" stroke-linecap="butt" />
<text transform="translate(713.23,635.45) scale(1.0800,1) translate(-0.80,0)" font-size="20.00" fill="#000" stroke="#000" stroke-width="0.3"><tspan >0</tspan></text>
<text transform="translate(702.54,532.95) scale(1.0800,1) translate(-0.90,0)" font-size="20.00" fill="#000" stroke="#000" stroke-width="0.3"><tspan >20</tspan></text>
<text transform="translate(702.00,430.45) scale(1.0800,1) translate(-0.40,0)" font-size="20.00" fill="#000" stroke="#000" stroke-width="0.3"><tspan >40</tspan></text>
<text transform="translate(702.43,327.95) scale(1.0800,1) translate(-0.80,0)" font-size="20.00" fill="#000" stroke="#000" stroke-width="0.3"><tspan >60</tspan></text>
<text transform="translate(702.43,225.45) scale(1.0800,1) translate(-0.80,0)" font-size="20.00" fill="#000" stroke="#000" stroke-width="0.3"><tspan >80</tspan></text>
<text transform="translate(692.60,122.95) scale(1.0800,1) translate(-1.70,0)" font-size="20.00" fill="#000" stroke="#000" stroke-width="0.3"><tspan >100</tspan></text>
<text transform="translate(692.60,20.45) scale(1.0800,1) translate(-1.70,0)" font-size="20.00" fill="#000" stroke="#000" stroke-width="0.3"><tspan >120</tspan></text>
<text transform="translate(784.76,672.50) scale(1.0500,1) translate(-0.78,0)" font-size="19.50" fill="#000" stroke="#000" stroke-width="0.3"><tspan >0.3</tspan></text>
<text transform="translate(944.08,672.50) scale(1.0500,1) translate(-0.78,0)" font-size="19.50" fill="#000" stroke="#000" stroke-width="0.3"><tspan >0.6</tspan></text>
<text transform="translate(1103.60,672.50) scale(1.0500,1) translate(-0.78,0)" font-size="19.50" fill="#000" stroke="#000" stroke-width="0.3"><tspan >0.9</tspan></text>
<text transform="translate(866.40,705.00) scale(1.0128,1) translate(-0.72,0)" font-size="24.00" fill="#000" stroke="#000" stroke-width="0.3"><tspan >Potential vs. SCE/ V</tspan></text>
<text transform="translate(678.60,315.20) rotate(-90.00) scale(0.9244,1) translate(-1.10,0)" font-size="27.50" fill="#000" stroke="#000" stroke-width="0.3"><tspan >Current, mA cm</tspan><tspan font-size="15.95" dy="-15.13">−2</tspan></text>
<text transform="translate(819.40,28.80) scale(1.0409,1) translate(-1.30,0)" font-size="29.00" fill="#000" stroke="#000" stroke-width="0.3"><tspan >(b)</tspan></text>
<line x1="772.00" y1="164.60" x2="828.10" y2="164.60" stroke="#000" stroke-width="3.6" stroke-linecap="butt" />
<text transform="translate(841.50,173.20) scale(1.0626,1) translate(-0.92,0)" font-size="23.00" fill="#000" stroke="#000" stroke-width="0.3"><tspan >0.1 M</tspan></text>
<line x1="772.00" y1="195.60" x2="828.10" y2="195.60" stroke="#e01616" stroke-width="3.6" stroke-linecap="butt" />
<text transform="translate(837.50,204.20) scale(1.0377,1) translate(-1.96,0)" font-size="23.00" fill="#000" stroke="#000" stroke-width="0.3"><tspan >1.0 M</tspan></text>
<line x1="772.00" y1="226.50" x2="828.10" y2="226.50" stroke="#0808d8" stroke-width="3.6" stroke-linecap="butt" />
<text transform="translate(835.70,235.10) scale(1.0659,1) translate(-1.38,0)" font-size="23.00" fill="#000" stroke="#000" stroke-width="0.3"><tspan >5 M</tspan></text>
<text transform="translate(1075.00,74.80) scale(1.0390,1) translate(-1.74,0)" font-size="29.00" fill="#0808d8" stroke="#0808d8" stroke-width="0.3"><tspan >5.0 M</tspan></text>
<text transform="translate(1119.70,230.90) scale(1.0226,1) translate(-2.42,0)" font-size="28.50" fill="#e01616" stroke="#e01616" stroke-width="0.3"><tspan >1.0 M</tspan></text>
<text transform="translate(1122.40,451.70) scale(1.0632,1) translate(-1.14,0)" font-size="28.50" fill="#000" stroke="#000" stroke-width="0.3"><tspan >0.1 M</tspan></text>
<path d="M744.00,629.00 L900.00,629.00 L900.00,629.00 L900.98,629.03 L902.02,629.08 L903.06,629.11 L904.10,629.13 L905.13,629.15 L906.17,629.15 L907.20,629.15 L908.22,629.13 L909.25,629.11 L910.28,629.08 L911.30,629.03 L912.32,628.98 L913.34,628.92 L914.36,628.85 L915.37,628.78 L916.38,628.69 L917.40,628.59 L918.40,628.49 L919.41,628.38 L920.42,628.26 L921.42,628.13 L922.42,627.99 L923.42,627.85 L924.42,627.69 L925.42,627.53 L926.41,627.36 L927.40,627.19 L928.39,627.00 L929.38,626.81 L930.37,626.61 L931.35,626.40 L932.34,626.19 L933.32,625.97 L934.30,625.74 L935.28,625.50 L936.25,625.26 L937.23,625.01 L938.20,624.75 L939.17,624.49 L940.14,624.22 L941.11,623.94 L942.07,623.66 L943.04,623.37 L944.00,623.07 L944.96,622.77 L945.92,622.46 L946.88,622.15 L947.83,621.83 L948.79,621.50 L949.74,621.17 L950.69,620.83 L951.64,620.49 L952.58,620.14 L953.53,619.78 L954.47,619.42 L955.42,619.06 L956.36,618.69 L957.30,618.31 L958.23,617.93 L959.17,617.54 L960.10,617.15 L961.04,616.76 L961.97,616.36 L962.90,615.95 L963.83,615.54 L964.75,615.13 L965.68,614.71 L966.60,614.29 L967.52,613.86 L968.44,613.43 L969.36,612.99 L970.28,612.55 L971.20,612.11 L972.11,611.67 L973.02,611.21 L973.94,610.76 L974.85,610.30 L975.75,609.84 L976.66,609.38 L977.57,608.91 L978.47,608.44 L979.38,607.96 L980.28,607.48 L981.18,607.00 L982.08,606.52 L982.97,606.03 L983.87,605.54 L984.77,605.05 L985.66,604.55 L986.55,604.05 L987.44,603.54 L988.33,603.04 L989.22,602.53 L990.11,602.02 L990.99,601.50 L991.88,600.98 L992.76,600.46 L993.64,599.94 L994.52,599.41 L995.40,598.89 L996.28,598.35 L997.16,597.82 L998.03,597.28 L998.91,596.75 L999.78,596.20 L1000.65,595.66 L1001.53,595.11 L1002.40,594.57 L1003.27,594.02 L1004.13,593.46 L1005.00,592.91 L1005.87,592.35 L1006.73,591.79 L1007.59,591.23 L1008.46,590.67 L1009.32,590.10 L1010.18,589.53 L1011.04,588.96 L1011.89,588.39 L1012.75,587.82 L1013.61,587.24 L1014.46,586.67 L1015.32,586.09 L1016.17,585.51 L1017.02,584.92 L1017.87,584.34 L1018.72,583.75 L1019.57,583.17 L1020.42,582.58 L1021.27,581.99 L1022.11,581.40 L1022.96,580.81 L1023.80,580.21 L1024.65,579.62 L1025.49,579.02 L1026.33,578.42 L1027.17,577.82 L1028.01,577.22 L1028.85,576.62 L1029.69,576.02 L1030.53,575.42 L1031.37,574.81 L1032.20,574.21 L1033.04,573.60 L1033.87,572.99 L1034.71,572.38 L1035.54,571.78 L1036.37,571.17 L1037.20,570.56 L1038.04,569.95 L1038.87,569.33 L1039.69,568.72 L1040.52,568.11 L1041.35,567.50 L1042.18,566.88 L1043.01,566.27 L1043.83,565.65 L1044.66,565.04 L1045.48,564.42 L1046.31,563.81 L1047.13,563.19 L1047.95,562.58 L1048.77,561.96 L1049.59,561.34 L1050.42,560.73 L1051.24,560.11 L1052.06,559.49 L1052.88,558.88 L1053.69,558.26 L1054.51,557.64 L1055.33,557.02 L1056.15,556.41 L1056.96,555.79 L1057.78,555.17 L1058.59,554.55 L1059.41,553.93 L1060.22,553.31 L1061.04,552.69 L1061.85,552.07 L1062.66,551.45 L1063.48,550.83 L1064.29,550.21 L1065.10,549.59 L1065.91,548.97 L1066.72,548.35 L1067.53,547.73 L1068.34,547.11 L1069.15,546.49 L1069.96,545.87 L1070.77,545.25 L1071.57,544.63 L1072.38,544.00 L1073.19,543.38 L1074.00,542.76 L1074.80,542.14 L1075.61,541.51 L1076.41,540.89 L1077.22,540.27 L1078.02,539.65 L1078.83,539.02 L1079.63,538.40 L1080.44,537.77 L1081.24,537.15 L1082.04,536.53 L1082.85,535.90 L1083.65,535.28 L1084.45,534.65 L1085.25,534.03 L1086.06,533.40 L1086.86,532.78 L1087.66,532.15 L1088.46,531.52 L1089.26,530.90 L1090.06,530.27 L1090.86,529.64 L1091.66,529.02 L1092.46,528.39 L1093.26,527.76 L1094.06,527.14 L1094.86,526.51 L1095.66,525.88 L1096.45,525.25 L1097.25,524.62 L1098.05,524.00 L1098.85,523.37 L1099.65,522.74 L1100.44,522.11 L1101.24,521.48 L1102.04,520.85 L1102.84,520.22 L1103.63,519.59 L1104.43,518.96 L1105.23,518.33 L1106.02,517.70 L1106.82,517.07 L1107.62,516.44 L1108.41,515.81 L1109.21,515.18 L1110.01,514.54 L1110.80,513.91 L1111.60,513.28 L1112.39,512.65 L1113.19,512.02 L1113.99,511.38 L1114.78,510.75 L1115.58,510.12 L1116.37,509.48 L1117.17,508.85 L1117.97,508.22 L1118.76,507.58 L1119.56,506.95 L1120.35,506.31 L1121.15,505.68 L1121.95,505.05 L1122.74,504.41 L1123.54,503.78 L1124.33,503.14 L1125.13,502.50 L1125.93,501.87 L1126.72,501.23 L1127.52,500.60 L1128.31,499.96 L1129.11,499.32 L1129.91,498.69 L1130.70,498.05 L1131.50,497.41 L1132.30,496.78 L1133.09,496.14 L1133.89,495.50 L1134.69,494.86 L1135.49,494.22 L1136.28,493.58 L1137.08,492.95 L1137.88,492.31 L1138.68,491.67 L1139.48,491.03 L1140.27,490.39 L1141.07,489.75 L1141.87,489.11 L1142.67,488.47 L1143.47,487.83 L1144.27,487.19 L1145.07,486.55 L1145.87,485.91 L1146.67,485.26 L1147.47,484.62 L1148.27,483.98 L1149.07,483.34 L1149.87,482.70 L1150.67,482.05 L1151.48,481.41 L1152.28,480.77 L1153.08,480.13 L1153.88,479.48 L1154.69,478.84 L1155.49,478.20 L1156.29,477.55 L1157.10,476.91 L1157.90,476.30" fill="none" stroke="#000" stroke-width="2.8" stroke-linecap="round" stroke-linejoin="round" />
<path d="M744.00,629.00 L915.00,629.00 L915.00,629.00 L915.89,628.92 L916.90,628.99 L917.91,629.05 L918.91,629.10 L919.91,629.14 L920.91,629.17 L921.91,629.19 L922.90,629.20 L923.89,629.20 L924.88,629.19 L925.87,629.17 L926.86,629.14 L927.84,629.10 L928.82,629.06 L929.80,629.00 L930.78,628.94 L931.75,628.86 L932.72,628.78 L933.69,628.69 L934.66,628.59 L935.63,628.48 L936.59,628.36 L937.55,628.23 L938.51,628.10 L939.47,627.95 L940.42,627.80 L941.38,627.64 L942.33,627.47 L943.27,627.30 L944.22,627.11 L945.17,626.92 L946.11,626.72 L947.05,626.51 L947.99,626.30 L948.92,626.08 L949.85,625.84 L950.79,625.61 L951.72,625.36 L952.64,625.11 L953.57,624.85 L954.49,624.58 L955.41,624.31 L956.33,624.03 L957.25,623.74 L958.17,623.45 L959.08,623.15 L959.99,622.84 L960.90,622.53 L961.81,622.21 L962.71,621.88 L963.61,621.55 L964.52,621.21 L965.41,620.86 L966.31,620.51 L967.21,620.15 L968.10,619.79 L968.99,619.42 L969.88,619.05 L970.77,618.67 L971.65,618.28 L972.54,617.89 L973.42,617.49 L974.30,617.09 L975.18,616.68 L976.05,616.27 L976.92,615.85 L977.80,615.43 L978.67,615.01 L979.53,614.57 L980.40,614.14 L981.27,613.70 L982.13,613.25 L982.99,612.80 L983.85,612.34 L984.70,611.88 L985.56,611.42 L986.41,610.95 L987.26,610.48 L988.11,610.01 L988.96,609.53 L989.81,609.04 L990.65,608.55 L991.49,608.06 L992.33,607.57 L993.17,607.07 L994.01,606.57 L994.85,606.06 L995.68,605.55 L996.51,605.04 L997.34,604.52 L998.17,604.00 L999.00,603.48 L999.83,602.95 L1000.65,602.42 L1001.47,601.89 L1002.29,601.35 L1003.11,600.81 L1003.93,600.27 L1004.75,599.72 L1005.56,599.17 L1006.38,598.62 L1007.19,598.07 L1008.00,597.51 L1008.81,596.95 L1009.62,596.39 L1010.43,595.82 L1011.23,595.25 L1012.04,594.68 L1012.84,594.11 L1013.64,593.53 L1014.44,592.96 L1015.24,592.38 L1016.04,591.79 L1016.84,591.21 L1017.63,590.62 L1018.43,590.03 L1019.22,589.44 L1020.01,588.85 L1020.81,588.26 L1021.60,587.66 L1022.39,587.06 L1023.17,586.46 L1023.96,585.86 L1024.75,585.25 L1025.53,584.65 L1026.32,584.04 L1027.10,583.43 L1027.88,582.82 L1028.66,582.21 L1029.44,581.60 L1030.22,580.98 L1031.00,580.37 L1031.78,579.75 L1032.56,579.13 L1033.33,578.51 L1034.11,577.89 L1034.88,577.27 L1035.66,576.65 L1036.43,576.02 L1037.20,575.40 L1037.97,574.77 L1038.74,574.15 L1039.51,573.52 L1040.28,572.90 L1041.05,572.27 L1041.82,571.64 L1042.59,571.01 L1043.36,570.38 L1044.12,569.75 L1044.89,569.12 L1045.65,568.49 L1046.42,567.86 L1047.18,567.23 L1047.95,566.60 L1048.71,565.97 L1049.47,565.33 L1050.24,564.70 L1051.00,564.07 L1051.76,563.44 L1052.52,562.81 L1053.28,562.18 L1054.04,561.55 L1054.80,560.92 L1055.56,560.29 L1056.32,559.66 L1057.08,559.03 L1057.84,558.40 L1058.60,557.77 L1059.36,557.14 L1060.12,556.51 L1060.88,555.88 L1061.63,555.25 L1062.39,554.62 L1063.15,553.99 L1063.90,553.37 L1064.66,552.74 L1065.42,552.11 L1066.17,551.48 L1066.93,550.85 L1067.68,550.23 L1068.44,549.60 L1069.19,548.97 L1069.95,548.34 L1070.70,547.72 L1071.46,547.09 L1072.21,546.46 L1072.97,545.84 L1073.72,545.21 L1074.47,544.59 L1075.23,543.96 L1075.98,543.33 L1076.74,542.71 L1077.49,542.08 L1078.24,541.46 L1078.99,540.83 L1079.75,540.21 L1080.50,539.58 L1081.25,538.96 L1082.01,538.33 L1082.76,537.71 L1083.51,537.08 L1084.26,536.46 L1085.01,535.84 L1085.77,535.21 L1086.52,534.59 L1087.27,533.97 L1088.02,533.34 L1088.77,532.72 L1089.53,532.10 L1090.28,531.47 L1091.03,530.85 L1091.78,530.23 L1092.53,529.61 L1093.29,528.98 L1094.04,528.36 L1094.79,527.74 L1095.54,527.12 L1096.29,526.50 L1097.05,525.88 L1097.80,525.25 L1098.55,524.63 L1099.30,524.01 L1100.05,523.39 L1100.81,522.77 L1101.56,522.15 L1102.31,521.53 L1103.06,520.91 L1103.82,520.29 L1104.57,519.67 L1105.32,519.05 L1106.07,518.43 L1106.83,517.81 L1107.58,517.19 L1108.33,516.57 L1109.09,515.95 L1109.84,515.33 L1110.60,514.72 L1111.35,514.10 L1112.10,513.48 L1112.86,512.86 L1113.61,512.24 L1114.37,511.62 L1115.12,511.01 L1115.88,510.39 L1116.63,509.77 L1117.39,509.15 L1118.14,508.54 L1118.90,507.92 L1119.66,507.30 L1120.41,506.68 L1121.17,506.07 L1121.93,505.45 L1122.68,504.83 L1123.44,504.22 L1124.20,503.60 L1124.96,502.99 L1125.72,502.37 L1126.48,501.75 L1127.24,501.14 L1128.00,500.52 L1128.75,499.91 L1129.52,499.29 L1130.28,498.68 L1131.04,498.06 L1131.80,497.45 L1132.56,496.83 L1133.32,496.22 L1134.08,495.60 L1134.85,494.99 L1135.61,494.37 L1136.37,493.76 L1137.14,493.15 L1137.90,492.53 L1138.67,491.92 L1139.43,491.30 L1140.20,490.69 L1140.96,490.08 L1141.73,489.46 L1142.50,488.85 L1143.26,488.24 L1144.03,487.63 L1144.80,487.01 L1145.57,486.40 L1146.34,485.79 L1147.11,485.18 L1147.88,484.56 L1148.65,483.95 L1149.42,483.34 L1150.19,482.73 L1150.96,482.12 L1151.74,481.50 L1152.51,480.89 L1153.28,480.28 L1154.06,479.67 L1154.83,479.06 L1155.61,478.45 L1156.39,477.84 L1157.16,477.23 L1157.90,476.60" fill="none" stroke="#000" stroke-width="2.8" stroke-linecap="round" stroke-linejoin="round" />
<path d="M744.00,629.00 L870.00,629.00 L870.00,629.00 L871.59,628.87 L873.29,628.97 L874.98,629.05 L876.66,629.09 L878.34,629.09 L880.01,629.07 L881.67,629.00 L883.33,628.91 L884.97,628.78 L886.61,628.62 L888.24,628.42 L889.87,628.20 L891.48,627.94 L893.08,627.65 L894.68,627.32 L896.27,626.97 L897.84,626.58 L899.41,626.17 L900.96,625.72 L902.50,625.24 L904.04,624.74 L905.56,624.20 L907.07,623.63 L908.56,623.04 L910.05,622.41 L911.52,621.76 L912.99,621.08 L914.44,620.38 L915.87,619.64 L917.30,618.89 L918.72,618.11 L920.12,617.30 L921.51,616.47 L922.89,615.62 L924.26,614.75 L925.61,613.85 L926.96,612.94 L928.29,612.00 L929.61,611.05 L930.92,610.07 L932.22,609.08 L933.51,608.07 L934.78,607.05 L936.05,606.00 L937.30,604.94 L938.54,603.87 L939.77,602.78 L940.99,601.68 L942.19,600.57 L943.39,599.44 L944.57,598.30 L945.75,597.15 L946.91,595.98 L948.06,594.81 L949.21,593.62 L950.34,592.42 L951.47,591.21 L952.59,590.00 L953.70,588.77 L954.80,587.53 L955.89,586.28 L956.98,585.03 L958.06,583.77 L959.13,582.50 L960.19,581.22 L961.25,579.94 L962.30,578.64 L963.35,577.35 L964.39,576.04 L965.43,574.74 L966.46,573.42 L967.48,572.10 L968.50,570.78 L969.52,569.45 L970.53,568.12 L971.54,566.79 L972.55,565.45 L973.55,564.11 L974.55,562.77 L975.55,561.42 L976.54,560.08 L977.54,558.73 L978.53,557.39 L979.52,556.04 L980.51,554.69 L981.50,553.35 L982.48,552.00 L983.47,550.65 L984.46,549.31 L985.44,547.96 L986.43,546.62 L987.41,545.27 L988.39,543.93 L989.37,542.58 L990.35,541.24 L991.33,539.89 L992.31,538.55 L993.29,537.21 L994.26,535.86 L995.24,534.52 L996.21,533.18 L997.19,531.83 L998.16,530.49 L999.13,529.15 L1000.10,527.80 L1001.07,526.46 L1002.04,525.11 L1003.01,523.77 L1003.98,522.43 L1004.95,521.08 L1005.91,519.74 L1006.87,518.40 L1007.84,517.05 L1008.80,515.71 L1009.76,514.36 L1010.72,513.02 L1011.68,511.67 L1012.64,510.33 L1013.60,508.98 L1014.55,507.64 L1015.51,506.29 L1016.46,504.95 L1017.42,503.60 L1018.37,502.25 L1019.32,500.91 L1020.27,499.56 L1021.22,498.21 L1022.17,496.86 L1023.12,495.51 L1024.06,494.16 L1025.01,492.81 L1025.95,491.46 L1026.90,490.11 L1027.84,488.76 L1028.78,487.41 L1029.72,486.06 L1030.66,484.71 L1031.60,483.35 L1032.53,482.00 L1033.47,480.64 L1034.41,479.29 L1035.34,477.93 L1036.27,476.58 L1037.20,475.22 L1038.13,473.86 L1039.06,472.50 L1039.99,471.14 L1040.92,469.78 L1041.85,468.42 L1042.77,467.06 L1043.70,465.69 L1044.62,464.33 L1045.54,462.97 L1046.46,461.60 L1047.38,460.23 L1048.30,458.87 L1049.22,457.50 L1050.13,456.13 L1051.05,454.76 L1051.96,453.39 L1052.88,452.02 L1053.79,450.64 L1054.70,449.27 L1055.61,447.89 L1056.52,446.52 L1057.42,445.14 L1058.33,443.76 L1059.24,442.38 L1060.14,441.00 L1061.04,439.62 L1061.95,438.24 L1062.85,436.86 L1063.75,435.47 L1064.64,434.09 L1065.54,432.70 L1066.44,431.31 L1067.33,429.92 L1068.23,428.54 L1069.12,427.15 L1070.01,425.75 L1070.90,424.36 L1071.79,422.97 L1072.68,421.58 L1073.57,420.18 L1074.46,418.79 L1075.34,417.39 L1076.23,415.99 L1077.11,414.60 L1077.99,413.20 L1078.88,411.80 L1079.76,410.40 L1080.64,409.00 L1081.51,407.59 L1082.39,406.19 L1083.27,404.79 L1084.14,403.38 L1085.02,401.98 L1085.89,400.57 L1086.76,399.16 L1087.63,397.76 L1088.50,396.35 L1089.37,394.94 L1090.24,393.53 L1091.11,392.12 L1091.97,390.71 L1092.84,389.30 L1093.70,387.88 L1094.57,386.47 L1095.43,385.06 L1096.29,383.64 L1097.15,382.23 L1098.01,380.81 L1098.87,379.39 L1099.72,377.97 L1100.58,376.56 L1101.44,375.14 L1102.29,373.72 L1103.14,372.30 L1104.00,370.88 L1104.85,369.46 L1105.70,368.03 L1106.55,366.61 L1107.40,365.19 L1108.24,363.76 L1109.09,362.34 L1109.94,360.91 L1110.78,359.49 L1111.62,358.06 L1112.47,356.64 L1113.31,355.21 L1114.15,353.78 L1114.99,352.35 L1115.83,350.92 L1116.67,349.49 L1117.50,348.07 L1118.34,346.63 L1119.18,345.20 L1120.01,343.77 L1120.84,342.34 L1121.68,340.91 L1122.51,339.48 L1123.34,338.04 L1124.17,336.61 L1125.00,335.17 L1125.83,333.74 L1126.65,332.31 L1127.48,330.87 L1128.31,329.43 L1129.13,328.00 L1129.95,326.56 L1130.78,325.12 L1131.60,323.69 L1132.42,322.25 L1133.24,320.81 L1134.06,319.37 L1134.88,317.93 L1135.70,316.49 L1136.51,315.05 L1137.33,313.61 L1138.14,312.17 L1138.96,310.73 L1139.77,309.29 L1140.58,307.85 L1141.40,306.41 L1142.21,304.97 L1143.02,303.53 L1143.83,302.08 L1144.63,300.64 L1145.44,299.20 L1146.25,297.76 L1147.05,296.31 L1147.86,294.87 L1148.66,293.43 L1149.47,291.98 L1150.27,290.54 L1151.07,289.09 L1151.87,287.65 L1152.67,286.20 L1153.47,284.76 L1154.27,283.31 L1155.07,281.87 L1155.87,280.42 L1156.66,278.98 L1157.46,277.53 L1158.25,276.08 L1159.05,274.64 L1159.84,273.19 L1160.63,271.75 L1161.42,270.30 L1162.21,268.85 L1163.00,267.41 L1163.79,265.96 L1164.58,264.51 L1165.37,263.06 L1166.16,261.62 L1166.94,260.17 L1167.73,258.72 L1168.51,257.28 L1169.30,255.80" fill="none" stroke="#e01616" stroke-width="2.8" stroke-linecap="round" stroke-linejoin="round" />
<path d="M744.00,629.00 L895.00,629.00 L895.00,629.00 L896.56,628.95 L898.19,629.04 L899.81,629.10 L901.43,629.12 L903.05,629.11 L904.66,629.06 L906.26,628.98 L907.86,628.87 L909.45,628.72 L911.04,628.54 L912.61,628.33 L914.18,628.08 L915.73,627.79 L917.28,627.48 L918.81,627.13 L920.34,626.74 L921.85,626.32 L923.35,625.86 L924.83,625.38 L926.30,624.85 L927.76,624.30 L929.20,623.71 L930.63,623.08 L932.03,622.42 L933.42,621.73 L934.80,621.00 L936.15,620.24 L937.49,619.44 L938.82,618.62 L940.12,617.77 L941.41,616.89 L942.69,615.98 L943.96,615.05 L945.20,614.09 L946.44,613.12 L947.66,612.11 L948.87,611.09 L950.07,610.05 L951.26,608.99 L952.44,607.92 L953.60,606.82 L954.76,605.72 L955.91,604.60 L957.04,603.46 L958.17,602.32 L959.29,601.17 L960.41,600.01 L961.51,598.84 L962.62,597.67 L963.71,596.49 L964.80,595.30 L965.88,594.11 L966.95,592.91 L968.02,591.71 L969.09,590.51 L970.14,589.30 L971.19,588.08 L972.24,586.86 L973.28,585.64 L974.31,584.41 L975.34,583.17 L976.36,581.93 L977.38,580.69 L978.39,579.44 L979.40,578.19 L980.40,576.94 L981.40,575.68 L982.39,574.42 L983.37,573.15 L984.35,571.88 L985.33,570.60 L986.30,569.32 L987.27,568.04 L988.23,566.76 L989.18,565.47 L990.13,564.18 L991.08,562.89 L992.02,561.59 L992.96,560.29 L993.90,558.98 L994.82,557.68 L995.75,556.37 L996.67,555.06 L997.59,553.74 L998.50,552.43 L999.41,551.11 L1000.31,549.79 L1001.21,548.47 L1002.11,547.14 L1003.00,545.81 L1003.89,544.49 L1004.78,543.15 L1005.66,541.82 L1006.54,540.49 L1007.41,539.15 L1008.28,537.81 L1009.15,536.47 L1010.02,535.13 L1010.88,533.78 L1011.74,532.44 L1012.59,531.09 L1013.44,529.74 L1014.29,528.39 L1015.14,527.04 L1015.99,525.69 L1016.83,524.33 L1017.67,522.97 L1018.50,521.62 L1019.34,520.26 L1020.17,518.90 L1021.00,517.54 L1021.82,516.17 L1022.65,514.81 L1023.47,513.44 L1024.29,512.08 L1025.11,510.71 L1025.93,509.34 L1026.74,507.97 L1027.55,506.60 L1028.37,505.23 L1029.18,503.85 L1029.98,502.48 L1030.79,501.11 L1031.59,499.73 L1032.40,498.35 L1033.20,496.98 L1034.00,495.60 L1034.80,494.22 L1035.60,492.84 L1036.40,491.46 L1037.20,490.08 L1037.99,488.70 L1038.79,487.32 L1039.58,485.94 L1040.38,484.56 L1041.17,483.18 L1041.96,481.80 L1042.75,480.41 L1043.55,479.03 L1044.34,477.65 L1045.13,476.26 L1045.92,474.88 L1046.71,473.49 L1047.50,472.11 L1048.29,470.73 L1049.08,469.34 L1049.87,467.96 L1050.66,466.58 L1051.46,465.19 L1052.25,463.81 L1053.04,462.42 L1053.83,461.04 L1054.63,459.66 L1055.42,458.28 L1056.21,456.89 L1057.01,455.51 L1057.81,454.13 L1058.60,452.75 L1059.40,451.37 L1060.20,449.99 L1061.00,448.61 L1061.80,447.23 L1062.60,445.85 L1063.40,444.47 L1064.20,443.09 L1065.01,441.71 L1065.81,440.34 L1066.62,438.96 L1067.42,437.58 L1068.23,436.20 L1069.03,434.83 L1069.84,433.45 L1070.65,432.07 L1071.46,430.70 L1072.26,429.32 L1073.07,427.95 L1073.88,426.57 L1074.69,425.20 L1075.50,423.82 L1076.32,422.45 L1077.13,421.07 L1077.94,419.70 L1078.75,418.32 L1079.56,416.95 L1080.38,415.58 L1081.19,414.20 L1082.00,412.83 L1082.82,411.46 L1083.63,410.08 L1084.45,408.71 L1085.26,407.34 L1086.07,405.96 L1086.89,404.59 L1087.70,403.22 L1088.52,401.84 L1089.33,400.47 L1090.15,399.10 L1090.97,397.72 L1091.78,396.35 L1092.60,394.98 L1093.41,393.61 L1094.23,392.23 L1095.04,390.86 L1095.86,389.49 L1096.68,388.11 L1097.49,386.74 L1098.31,385.37 L1099.12,383.99 L1099.94,382.62 L1100.75,381.25 L1101.57,379.87 L1102.38,378.50 L1103.20,377.13 L1104.01,375.75 L1104.82,374.38 L1105.64,373.00 L1106.45,371.63 L1107.26,370.25 L1108.08,368.88 L1108.89,367.50 L1109.70,366.13 L1110.51,364.75 L1111.33,363.38 L1112.14,362.00 L1112.95,360.62 L1113.76,359.25 L1114.57,357.87 L1115.38,356.49 L1116.18,355.12 L1116.99,353.74 L1117.80,352.36 L1118.61,350.98 L1119.41,349.60 L1120.22,348.23 L1121.02,346.85 L1121.83,345.47 L1122.63,344.09 L1123.44,342.71 L1124.24,341.32 L1125.04,339.94 L1125.84,338.56 L1126.64,337.18 L1127.44,335.80 L1128.24,334.41 L1129.04,333.03 L1129.84,331.65 L1130.63,330.26 L1131.43,328.88 L1132.22,327.49 L1133.01,326.11 L1133.81,324.72 L1134.60,323.33 L1135.39,321.95 L1136.18,320.56 L1136.97,319.17 L1137.76,317.78 L1138.54,316.39 L1139.33,315.00 L1140.11,313.61 L1140.90,312.22 L1141.68,310.83 L1142.46,309.44 L1143.24,308.04 L1144.02,306.65 L1144.79,305.26 L1145.57,303.86 L1146.35,302.46 L1147.12,301.07 L1147.89,299.67 L1148.66,298.27 L1149.43,296.87 L1150.20,295.48 L1150.97,294.08 L1151.73,292.68 L1152.50,291.27 L1153.26,289.87 L1154.02,288.47 L1154.78,287.06 L1155.54,285.66 L1156.30,284.26 L1157.05,282.85 L1157.81,281.44 L1158.56,280.03 L1159.31,278.63 L1160.06,277.22 L1160.81,275.81 L1161.56,274.40 L1162.30,272.98 L1163.04,271.57 L1163.78,270.16 L1164.52,268.74 L1165.26,267.33 L1166.00,265.91 L1166.73,264.49 L1167.46,263.08 L1168.19,261.66 L1168.92,260.24 L1169.65,258.81 L1170.40,257.40" fill="none" stroke="#e01616" stroke-width="2.8" stroke-linecap="round" stroke-linejoin="round" />
<path d="M744.00,629.00 L850.00,629.00 L850.00,629.00 L852.22,628.85 L854.52,628.88 L856.81,628.84 L859.08,628.73 L861.34,628.54 L863.58,628.28 L865.80,627.94 L868.01,627.54 L870.19,627.06 L872.35,626.52 L874.48,625.90 L876.59,625.22 L878.68,624.48 L880.73,623.67 L882.76,622.80 L884.75,621.86 L886.71,620.86 L888.64,619.80 L890.53,618.68 L892.39,617.50 L894.21,616.27 L895.98,614.98 L897.72,613.63 L899.41,612.23 L901.06,610.77 L902.67,609.26 L904.24,607.71 L905.77,606.11 L907.27,604.47 L908.73,602.79 L910.17,601.08 L911.57,599.32 L912.95,597.54 L914.30,595.73 L915.63,593.90 L916.94,592.04 L918.23,590.16 L919.50,588.26 L920.76,586.35 L922.01,584.42 L923.24,582.49 L924.47,580.55 L925.69,578.60 L926.91,576.66 L928.12,574.71 L929.33,572.77 L930.53,570.82 L931.74,568.88 L932.94,566.94 L934.14,565.00 L935.33,563.07 L936.52,561.13 L937.71,559.19 L938.90,557.25 L940.08,555.32 L941.27,553.38 L942.44,551.45 L943.62,549.51 L944.79,547.58 L945.96,545.64 L947.12,543.71 L948.28,541.77 L949.44,539.83 L950.60,537.90 L951.75,535.96 L952.90,534.02 L954.04,532.08 L955.18,530.14 L956.32,528.20 L957.45,526.26 L958.58,524.32 L959.71,522.37 L960.83,520.43 L961.95,518.48 L963.07,516.53 L964.18,514.58 L965.29,512.62 L966.39,510.67 L967.49,508.71 L968.59,506.75 L969.68,504.79 L970.77,502.83 L971.85,500.86 L972.93,498.89 L974.00,496.92 L975.08,494.95 L976.14,492.97 L977.21,490.99 L978.27,489.01 L979.33,487.03 L980.38,485.05 L981.43,483.06 L982.47,481.07 L983.52,479.08 L984.56,477.09 L985.59,475.09 L986.62,473.10 L987.65,471.10 L988.68,469.10 L989.70,467.09 L990.72,465.09 L991.74,463.08 L992.75,461.08 L993.76,459.07 L994.77,457.05 L995.77,455.04 L996.77,453.03 L997.77,451.01 L998.77,448.99 L999.76,446.97 L1000.76,444.95 L1001.74,442.93 L1002.73,440.91 L1003.71,438.88 L1004.69,436.85 L1005.67,434.83 L1006.65,432.80 L1007.62,430.77 L1008.60,428.73 L1009.57,426.70 L1010.53,424.67 L1011.50,422.63 L1012.46,420.59 L1013.43,418.56 L1014.39,416.52 L1015.34,414.48 L1016.30,412.44 L1017.25,410.40 L1018.21,408.35 L1019.16,406.31 L1020.11,404.26 L1021.06,402.22 L1022.00,400.17 L1022.95,398.13 L1023.89,396.08 L1024.83,394.03 L1025.78,391.98 L1026.72,389.93 L1027.65,387.88 L1028.59,385.83 L1029.53,383.78 L1030.46,381.73 L1031.40,379.67 L1032.33,377.62 L1033.27,375.57 L1034.20,373.51 L1035.13,371.46 L1036.06,369.40 L1036.99,367.35 L1037.92,365.29 L1038.85,363.24 L1039.78,361.18 L1040.70,359.13 L1041.63,357.07 L1042.56,355.01 L1043.49,352.96 L1044.41,350.90 L1045.34,348.85 L1046.26,346.79 L1047.19,344.73 L1048.12,342.68 L1049.04,340.62 L1049.96,338.56 L1050.89,336.51 L1051.81,334.45 L1052.74,332.39 L1053.66,330.34 L1054.58,328.28 L1055.50,326.22 L1056.43,324.16 L1057.35,322.11 L1058.27,320.05 L1059.19,317.99 L1060.11,315.93 L1061.03,313.87 L1061.95,311.82 L1062.87,309.76 L1063.79,307.70 L1064.70,305.64 L1065.62,303.58 L1066.54,301.52 L1067.46,299.46 L1068.37,297.40 L1069.29,295.34 L1070.20,293.28 L1071.12,291.22 L1072.03,289.16 L1072.94,287.10 L1073.86,285.04 L1074.77,282.98 L1075.68,280.92 L1076.59,278.86 L1077.50,276.80 L1078.41,274.73 L1079.32,272.67 L1080.23,270.61 L1081.14,268.55 L1082.05,266.49 L1082.96,264.42 L1083.86,262.36 L1084.77,260.30 L1085.67,258.23 L1086.58,256.17 L1087.48,254.11 L1088.39,252.04 L1089.29,249.98 L1090.19,247.91 L1091.09,245.85 L1091.99,243.78 L1092.89,241.72 L1093.79,239.65 L1094.69,237.58 L1095.59,235.52 L1096.49,233.45 L1097.39,231.38 L1098.28,229.32 L1099.18,227.25 L1100.07,225.18 L1100.96,223.11 L1101.86,221.04 L1102.75,218.97 L1103.64,216.91 L1104.53,214.84 L1105.42,212.77 L1106.31,210.70 L1107.20,208.63 L1108.09,206.55 L1108.97,204.48 L1109.86,202.41 L1110.74,200.34 L1111.63,198.27 L1112.51,196.19 L1113.39,194.12 L1114.27,192.05 L1115.15,189.97 L1116.03,187.90 L1116.91,185.83 L1117.79,183.75 L1118.67,181.68 L1119.54,179.60 L1120.42,177.52 L1121.29,175.45 L1122.17,173.37 L1123.04,171.29 L1123.91,169.22 L1124.78,167.14 L1125.65,165.06 L1126.52,162.98 L1127.39,160.90 L1128.26,158.82 L1129.12,156.74 L1129.99,154.66 L1130.85,152.58 L1131.71,150.50 L1132.57,148.42 L1133.44,146.34 L1134.30,144.25 L1135.15,142.17 L1136.01,140.09 L1136.87,138.00 L1137.72,135.92 L1138.58,133.83 L1139.43,131.75 L1140.28,129.66 L1141.14,127.58 L1141.99,125.49 L1142.84,123.40 L1143.68,121.31 L1144.53,119.23 L1145.38,117.14 L1146.22,115.05 L1147.06,112.96 L1147.91,110.87 L1148.75,108.78 L1149.59,106.68 L1150.43,104.59 L1151.26,102.50 L1152.10,100.41 L1152.94,98.31 L1153.77,96.22 L1154.60,94.13 L1155.44,92.03 L1156.27,89.93 L1157.10,87.84 L1157.92,85.74 L1158.75,83.64 L1159.58,81.55 L1160.40,79.45 L1161.22,77.35 L1162.05,75.25 L1162.87,73.15 L1163.69,71.05 L1164.50,68.95 L1165.32,66.85 L1166.14,64.74 L1166.95,62.64 L1167.76,60.54 L1168.57,58.43 L1169.30,56.30" fill="none" stroke="#0808d8" stroke-width="3.0" stroke-linecap="round" stroke-linejoin="round" />
<path d="M744.00,629.00 L850.00,629.00 L850.00,629.00 L852.21,628.83 L854.53,628.87 L856.83,628.83 L859.11,628.72 L861.38,628.54 L863.64,628.29 L865.87,627.97 L868.09,627.58 L870.28,627.13 L872.45,626.61 L874.60,626.02 L876.73,625.37 L878.83,624.66 L880.90,623.88 L882.95,623.05 L884.97,622.15 L886.96,621.19 L888.92,620.18 L890.84,619.11 L892.74,617.99 L894.59,616.80 L896.42,615.57 L898.21,614.28 L899.95,612.94 L901.67,611.55 L903.34,610.11 L904.97,608.62 L906.58,607.09 L908.15,605.51 L909.68,603.90 L911.19,602.25 L912.67,600.57 L914.12,598.85 L915.55,597.10 L916.95,595.33 L918.34,593.53 L919.70,591.71 L921.04,589.86 L922.37,588.00 L923.68,586.13 L924.98,584.24 L926.27,582.34 L927.54,580.43 L928.81,578.51 L930.07,576.60 L931.32,574.68 L932.57,572.76 L933.81,570.83 L935.04,568.91 L936.27,566.99 L937.50,565.06 L938.72,563.14 L939.94,561.21 L941.14,559.28 L942.35,557.35 L943.55,555.42 L944.74,553.48 L945.93,551.55 L947.12,549.61 L948.30,547.68 L949.47,545.74 L950.64,543.80 L951.80,541.85 L952.96,539.91 L954.12,537.97 L955.27,536.02 L956.42,534.07 L957.56,532.12 L958.69,530.17 L959.83,528.22 L960.96,526.26 L962.08,524.30 L963.20,522.34 L964.31,520.38 L965.43,518.42 L966.53,516.46 L967.64,514.49 L968.73,512.52 L969.83,510.55 L970.92,508.58 L972.01,506.60 L973.09,504.63 L974.17,502.65 L975.25,500.67 L976.32,498.69 L977.39,496.70 L978.45,494.71 L979.51,492.73 L980.57,490.73 L981.62,488.74 L982.67,486.75 L983.72,484.75 L984.77,482.75 L985.81,480.75 L986.84,478.75 L987.88,476.75 L988.91,474.74 L989.94,472.73 L990.96,470.73 L991.99,468.72 L993.00,466.70 L994.02,464.69 L995.03,462.67 L996.04,460.66 L997.05,458.64 L998.06,456.62 L999.06,454.60 L1000.06,452.57 L1001.06,450.55 L1002.05,448.52 L1003.04,446.50 L1004.03,444.47 L1005.02,442.44 L1006.00,440.41 L1006.98,438.38 L1007.96,436.34 L1008.94,434.31 L1009.92,432.27 L1010.89,430.23 L1011.86,428.20 L1012.83,426.16 L1013.80,424.12 L1014.76,422.07 L1015.73,420.03 L1016.69,417.99 L1017.65,415.94 L1018.60,413.90 L1019.56,411.85 L1020.51,409.80 L1021.47,407.76 L1022.42,405.71 L1023.37,403.66 L1024.31,401.61 L1025.26,399.55 L1026.20,397.50 L1027.15,395.45 L1028.09,393.39 L1029.03,391.34 L1029.97,389.28 L1030.91,387.23 L1031.84,385.17 L1032.78,383.12 L1033.72,381.06 L1034.65,379.00 L1035.58,376.94 L1036.51,374.88 L1037.44,372.82 L1038.38,370.76 L1039.30,368.70 L1040.23,366.64 L1041.16,364.58 L1042.09,362.52 L1043.01,360.46 L1043.94,358.40 L1044.87,356.33 L1045.79,354.27 L1046.71,352.21 L1047.64,350.15 L1048.56,348.08 L1049.48,346.02 L1050.41,343.96 L1051.33,341.89 L1052.25,339.83 L1053.17,337.76 L1054.09,335.70 L1055.01,333.63 L1055.93,331.57 L1056.85,329.51 L1057.77,327.44 L1058.69,325.37 L1059.60,323.31 L1060.52,321.24 L1061.44,319.18 L1062.35,317.11 L1063.27,315.04 L1064.18,312.98 L1065.10,310.91 L1066.01,308.84 L1066.92,306.78 L1067.83,304.71 L1068.75,302.64 L1069.66,300.57 L1070.57,298.50 L1071.48,296.43 L1072.39,294.36 L1073.29,292.30 L1074.20,290.23 L1075.11,288.16 L1076.02,286.09 L1076.92,284.02 L1077.83,281.94 L1078.73,279.87 L1079.64,277.80 L1080.54,275.73 L1081.44,273.66 L1082.35,271.59 L1083.25,269.52 L1084.15,267.44 L1085.05,265.37 L1085.95,263.30 L1086.85,261.22 L1087.75,259.15 L1088.64,257.08 L1089.54,255.00 L1090.44,252.93 L1091.33,250.85 L1092.23,248.78 L1093.12,246.70 L1094.01,244.63 L1094.90,242.55 L1095.80,240.47 L1096.69,238.40 L1097.58,236.32 L1098.47,234.24 L1099.36,232.17 L1100.24,230.09 L1101.13,228.01 L1102.02,225.93 L1102.90,223.85 L1103.79,221.77 L1104.67,219.69 L1105.56,217.61 L1106.44,215.53 L1107.32,213.45 L1108.20,211.37 L1109.08,209.29 L1109.96,207.21 L1110.84,205.13 L1111.72,203.05 L1112.59,200.96 L1113.47,198.88 L1114.34,196.80 L1115.22,194.71 L1116.09,192.63 L1116.96,190.55 L1117.84,188.46 L1118.71,186.38 L1119.58,184.29 L1120.45,182.20 L1121.31,180.12 L1122.18,178.03 L1123.05,175.95 L1123.91,173.86 L1124.78,171.77 L1125.64,169.68 L1126.50,167.60 L1127.37,165.51 L1128.23,163.42 L1129.09,161.33 L1129.95,159.24 L1130.80,157.15 L1131.66,155.06 L1132.52,152.97 L1133.37,150.88 L1134.23,148.78 L1135.08,146.69 L1135.93,144.60 L1136.78,142.51 L1137.64,140.41 L1138.48,138.32 L1139.33,136.23 L1140.18,134.13 L1141.03,132.04 L1141.87,129.94 L1142.72,127.85 L1143.56,125.75 L1144.40,123.65 L1145.25,121.56 L1146.09,119.46 L1146.93,117.36 L1147.76,115.26 L1148.60,113.17 L1149.44,111.07 L1150.27,108.97 L1151.11,106.87 L1151.94,104.77 L1152.77,102.67 L1153.60,100.57 L1154.43,98.46 L1155.26,96.36 L1156.09,94.26 L1156.92,92.16 L1157.74,90.05 L1158.57,87.95 L1159.39,85.85 L1160.21,83.74 L1161.04,81.64 L1161.86,79.53 L1162.67,77.42 L1163.49,75.32 L1164.31,73.21 L1165.12,71.10 L1165.94,69.00 L1166.75,66.89 L1167.56,64.78 L1168.38,62.67 L1169.19,60.56 L1169.99,58.45 L1170.70,56.30" fill="none" stroke="#0808d8" stroke-width="3.0" stroke-linecap="round" stroke-linejoin="round" />
<line x1="66.10" y1="753.50" x2="66.10" y2="1220.60" stroke="#222" stroke-width="2.4" stroke-linecap="butt" />
<line x1="62.00" y1="753.50" x2="66.10" y2="753.50" stroke="#222" stroke-width="2.2" stroke-linecap="butt" />
<line x1="62.00" y1="1219.40" x2="500.70" y2="1219.40" stroke="#222" stroke-width="2.4" stroke-linecap="butt" />
<line x1="57.00" y1="1173.00" x2="66.10" y2="1173.00" stroke="#222" stroke-width="2.4" stroke-linecap="butt" />
<line x1="57.00" y1="1079.77" x2="66.10" y2="1079.77" stroke="#222" stroke-width="2.4" stroke-linecap="butt" />
<line x1="57.00" y1="986.54" x2="66.10" y2="986.54" stroke="#222" stroke-width="2.4" stroke-linecap="butt" />
<line x1="57.00" y1="893.31" x2="66.10" y2="893.31" stroke="#222" stroke-width="2.4" stroke-linecap="butt" />
<line x1="57.00" y1="800.08" x2="66.10" y2="800.08" stroke="#222" stroke-width="2.4" stroke-linecap="butt" />
<line x1="61.50" y1="1219.62" x2="66.10" y2="1219.62" stroke="#222" stroke-width="2.4" stroke-linecap="butt" />
<line x1="61.50" y1="1126.38" x2="66.10" y2="1126.38" stroke="#222" stroke-width="2.4" stroke-linecap="butt" />
<line x1="61.50" y1="1033.16" x2="66.10" y2="1033.16" stroke="#222" stroke-width="2.4" stroke-linecap="butt" />
<line x1="61.50" y1="939.92" x2="66.10" y2="939.92" stroke="#222" stroke-width="2.4" stroke-linecap="butt" />
<line x1="61.50" y1="846.69" x2="66.10" y2="846.69" stroke="#222" stroke-width="2.4" stroke-linecap="butt" />
<line x1="65.95" y1="1219.40" x2="65.95" y2="1223.60" stroke="#222" stroke-width="2.2" stroke-linecap="butt" />
<line x1="94.23" y1="1219.40" x2="94.23" y2="1223.60" stroke="#222" stroke-width="2.2" stroke-linecap="butt" />
<line x1="114.29" y1="1219.40" x2="114.29" y2="1223.60" stroke="#222" stroke-width="2.2" stroke-linecap="butt" />
<line x1="129.85" y1="1219.40" x2="129.85" y2="1223.60" stroke="#222" stroke-width="2.2" stroke-linecap="butt" />
<line x1="142.57" y1="1219.40" x2="142.57" y2="1223.60" stroke="#222" stroke-width="2.2" stroke-linecap="butt" />
<line x1="153.32" y1="1219.40" x2="153.32" y2="1223.60" stroke="#222" stroke-width="2.2" stroke-linecap="butt" />
<line x1="162.64" y1="1219.40" x2="162.64" y2="1223.60" stroke="#222" stroke-width="2.2" stroke-linecap="butt" />
<line x1="170.85" y1="1219.40" x2="170.85" y2="1223.60" stroke="#222" stroke-width="2.2" stroke-linecap="butt" />
<line x1="226.55" y1="1219.40" x2="226.55" y2="1223.60" stroke="#222" stroke-width="2.2" stroke-linecap="butt" />
<line x1="254.83" y1="1219.40" x2="254.83" y2="1223.60" stroke="#222" stroke-width="2.2" stroke-linecap="butt" />
<line x1="274.89" y1="1219.40" x2="274.89" y2="1223.60" stroke="#222" stroke-width="2.2" stroke-linecap="butt" />
<line x1="290.45" y1="1219.40" x2="290.45" y2="1223.60" stroke="#222" stroke-width="2.2" stroke-linecap="butt" />
<line x1="303.17" y1="1219.40" x2="303.17" y2="1223.60" stroke="#222" stroke-width="2.2" stroke-linecap="butt" />
<line x1="313.92" y1="1219.40" x2="313.92" y2="1223.60" stroke="#222" stroke-width="2.2" stroke-linecap="butt" />
<line x1="323.24" y1="1219.40" x2="323.24" y2="1223.60" stroke="#222" stroke-width="2.2" stroke-linecap="butt" />
<line x1="331.45" y1="1219.40" x2="331.45" y2="1223.60" stroke="#222" stroke-width="2.2" stroke-linecap="butt" />
<line x1="387.15" y1="1219.40" x2="387.15" y2="1223.60" stroke="#222" stroke-width="2.2" stroke-linecap="butt" />
<line x1="415.43" y1="1219.40" x2="415.43" y2="1223.60" stroke="#222" stroke-width="2.2" stroke-linecap="butt" />
<line x1="435.49" y1="1219.40" x2="435.49" y2="1223.60" stroke="#222" stroke-width="2.2" stroke-linecap="butt" />
<line x1="451.05" y1="1219.40" x2="451.05" y2="1223.60" stroke="#222" stroke-width="2.2" stroke-linecap="butt" />
<line x1="463.77" y1="1219.40" x2="463.77" y2="1223.60" stroke="#222" stroke-width="2.2" stroke-linecap="butt" />
<line x1="474.52" y1="1219.40" x2="474.52" y2="1223.60" stroke="#222" stroke-width="2.2" stroke-linecap="butt" />
<line x1="483.84" y1="1219.40" x2="483.84" y2="1223.60" stroke="#222" stroke-width="2.2" stroke-linecap="butt" />
<line x1="492.05" y1="1219.40" x2="492.05" y2="1223.60" stroke="#222" stroke-width="2.2" stroke-linecap="butt" />
<line x1="178.20" y1="1219.40" x2="178.20" y2="1227.40" stroke="#222" stroke-width="2.4" stroke-linecap="butt" />
<line x1="338.80" y1="1219.40" x2="338.80" y2="1227.40" stroke="#222" stroke-width="2.4" stroke-linecap="butt" />
<line x1="499.40" y1="1219.40" x2="499.40" y2="1227.40" stroke="#222" stroke-width="2.4" stroke-linecap="butt" />
<text transform="translate(34.00,1178.00) scale(0.9778,1) translate(-1.28,0)" font-size="15.00" fill="#2a2a2a" stroke="#2a2a2a" stroke-width="0.45"><tspan >1.5</tspan></text>
<text transform="translate(34.00,1084.77) scale(0.9692,1) translate(-1.28,0)" font-size="15.00" fill="#2a2a2a" stroke="#2a2a2a" stroke-width="0.45"><tspan >1.6</tspan></text>
<text transform="translate(34.00,991.54) scale(0.9692,1) translate(-1.28,0)" font-size="15.00" fill="#2a2a2a" stroke="#2a2a2a" stroke-width="0.45"><tspan >1.7</tspan></text>
<text transform="translate(34.00,898.31) scale(0.9778,1) translate(-1.28,0)" font-size="15.00" fill="#2a2a2a" stroke="#2a2a2a" stroke-width="0.45"><tspan >1.8</tspan></text>
<text transform="translate(34.00,805.08) scale(0.9778,1) translate(-1.28,0)" font-size="15.00" fill="#2a2a2a" stroke="#2a2a2a" stroke-width="0.45"><tspan >1.9</tspan></text>
<text transform="translate(169.83,1245.50) scale(1.1000,1) translate(-0.58,0)" font-size="14.50" fill="#2a2a2a" stroke="#2a2a2a" stroke-width="0.45"><tspan >0.1</tspan></text>
<text transform="translate(336.77,1245.50) scale(1.1000,1) translate(-1.23,0)" font-size="14.50" fill="#2a2a2a" stroke="#2a2a2a" stroke-width="0.45"><tspan >1</tspan></text>
<text transform="translate(493.22,1245.50) scale(1.1000,1) translate(-1.23,0)" font-size="14.50" fill="#2a2a2a" stroke="#2a2a2a" stroke-width="0.45"><tspan >10</tspan></text>
<text transform="translate(100.60,777.50) scale(1.1000,1) translate(-0.92,0)" font-size="20.50" fill="#222" stroke="#222" stroke-width="0.3"><tspan font-weight="bold">(c)</tspan></text>
<text transform="translate(196.70,1275.80) scale(1.0167,1) translate(-0.35,0)" font-size="17.50" fill="#1a1a1a" stroke="#1a1a1a" stroke-width="0.35"><tspan >log(Current/ mA cm</tspan><tspan font-size="10.50" dy="-9.62">-2</tspan><tspan dy="9.62">)</tspan></text>
<text transform="translate(17.40,1072.50) rotate(-90.00) scale(1.0011,1) translate(-0.53,0)" font-size="17.50" fill="#1a1a1a" stroke="#1a1a1a" stroke-width="0.35"><tspan >Potential vs. RHE/ V</tspan></text>
<path d="M112.50,955.50 C115.42,953.67 122.08,949.42 130.00,944.50 C137.92,939.58 148.33,933.50 160.00,926.00 C171.67,918.50 185.00,909.37 200.00,899.50 C215.00,889.63 235.00,876.58 250.00,866.80 C265.00,857.02 278.33,848.52 290.00,840.80 C301.67,833.08 312.50,825.97 320.00,820.50 C327.50,815.03 331.17,811.42 335.00,808.00 C338.83,804.58 341.67,801.33 343.00,800.00" fill="none" stroke="#8a1212" stroke-width="8.5" stroke-linecap="round" stroke-linejoin="round" />
<path d="M112.50,955.50 C115.42,953.67 122.08,949.42 130.00,944.50 C137.92,939.58 148.33,933.50 160.00,926.00 C171.67,918.50 185.00,909.37 200.00,899.50 C215.00,889.63 235.00,876.58 250.00,866.80 C265.00,857.02 278.33,848.52 290.00,840.80 C301.67,833.08 312.50,825.97 320.00,820.50 C327.50,815.03 331.17,811.42 335.00,808.00 C338.83,804.58 341.67,801.33 343.00,800.00" fill="none" stroke="#fff" stroke-width="4.6" stroke-linecap="butt" stroke-linejoin="round" stroke-dasharray="2.4 1.4"/>
<line x1="92.90" y1="969.90" x2="379.30" y2="778.80" stroke="#7a0a0a" stroke-width="3.2" stroke-linecap="round" />
<path d="M94.00,1079.00 C94.83,1077.67 97.00,1073.67 99.00,1071.00 C101.00,1068.33 103.33,1065.50 106.00,1063.00 C108.67,1060.50 111.00,1058.58 115.00,1056.00 C119.00,1053.42 122.50,1051.75 130.00,1047.50 C137.50,1043.25 148.33,1037.08 160.00,1030.50 C171.67,1023.92 186.08,1016.08 200.00,1008.00 C213.92,999.92 236.25,986.33 243.50,982.00" fill="none" stroke="#2020e8" stroke-width="9.5" stroke-linecap="round" stroke-linejoin="round" />
<path d="M94.00,1079.00 C94.83,1077.67 97.00,1073.67 99.00,1071.00 C101.00,1068.33 103.33,1065.50 106.00,1063.00 C108.67,1060.50 111.00,1058.58 115.00,1056.00 C119.00,1053.42 122.50,1051.75 130.00,1047.50 C137.50,1043.25 148.33,1037.08 160.00,1030.50 C171.67,1023.92 186.08,1016.08 200.00,1008.00 C213.92,999.92 236.25,986.33 243.50,982.00" fill="none" stroke="#fff" stroke-width="5.2" stroke-linecap="butt" stroke-linejoin="round" stroke-dasharray="2.6 1.5"/>
<line x1="80.20" y1="1074.50" x2="299.10" y2="945.80" stroke="#0808d8" stroke-width="3.2" stroke-linecap="round" />
<circle cx="201.7" cy="1096.7" r="3.6" fill="none" stroke="#e01616" stroke-width="1.2"/>
<circle cx="203.7" cy="1095.3" r="3.6" fill="none" stroke="#e01616" stroke-width="1.2"/>
<circle cx="206.4" cy="1093.4" r="3.6" fill="none" stroke="#e01616" stroke-width="1.2"/>
<circle cx="209.1" cy="1091.5" r="3.6" fill="none" stroke="#e01616" stroke-width="1.2"/>
<circle cx="212.5" cy="1089.2" r="3.6" fill="none" stroke="#e01616" stroke-width="1.2"/>
<circle cx="215.7" cy="1087.4" r="3.6" fill="none" stroke="#e01616" stroke-width="1.2"/>
<circle cx="219.6" cy="1085.1" r="3.6" fill="none" stroke="#e01616" stroke-width="1.2"/>
<circle cx="223.2" cy="1083.1" r="3.6" fill="none" stroke="#e01616" stroke-width="1.2"/>
<circle cx="227.1" cy="1080.8" r="3.6" fill="none" stroke="#e01616" stroke-width="1.2"/>
<circle cx="231.0" cy="1078.6" r="3.6" fill="none" stroke="#e01616" stroke-width="1.2"/>
<circle cx="235.0" cy="1076.4" r="3.6" fill="none" stroke="#e01616" stroke-width="1.2"/>
<circle cx="239.2" cy="1073.9" r="3.6" fill="none" stroke="#e01616" stroke-width="1.2"/>
<circle cx="243.6" cy="1071.7" r="3.6" fill="none" stroke="#e01616" stroke-width="1.2"/>
<circle cx="247.7" cy="1069.7" r="3.6" fill="none" stroke="#e01616" stroke-width="1.2"/>
<circle cx="252.4" cy="1067.3" r="3.6" fill="none" stroke="#e01616" stroke-width="1.2"/>
<circle cx="256.9" cy="1065.1" r="3.6" fill="none" stroke="#e01616" stroke-width="1.2"/>
<circle cx="261.3" cy="1062.9" r="3.6" fill="none" stroke="#e01616" stroke-width="1.2"/>
<circle cx="266.0" cy="1060.5" r="3.6" fill="none" stroke="#e01616" stroke-width="1.2"/>
<circle cx="270.8" cy="1058.1" r="3.6" fill="none" stroke="#e01616" stroke-width="1.2"/>
<circle cx="275.6" cy="1055.7" r="3.6" fill="none" stroke="#e01616" stroke-width="1.2"/>
<circle cx="280.4" cy="1053.3" r="3.6" fill="none" stroke="#e01616" stroke-width="1.2"/>
<circle cx="285.1" cy="1050.9" r="3.6" fill="none" stroke="#e01616" stroke-width="1.2"/>
<circle cx="289.9" cy="1048.5" r="3.6" fill="none" stroke="#e01616" stroke-width="1.2"/>
<circle cx="295.1" cy="1046.0" r="3.6" fill="none" stroke="#e01616" stroke-width="1.2"/>
<circle cx="299.8" cy="1043.6" r="3.6" fill="none" stroke="#e01616" stroke-width="1.2"/>
<circle cx="304.9" cy="1040.9" r="3.6" fill="none" stroke="#e01616" stroke-width="1.2"/>
<circle cx="310.0" cy="1038.3" r="3.6" fill="none" stroke="#e01616" stroke-width="1.2"/>
<circle cx="315.2" cy="1035.7" r="3.6" fill="none" stroke="#e01616" stroke-width="1.2"/>
<circle cx="320.3" cy="1033.0" r="3.6" fill="none" stroke="#e01616" stroke-width="1.2"/>
<circle cx="325.4" cy="1030.4" r="3.6" fill="none" stroke="#e01616" stroke-width="1.2"/>
<circle cx="330.4" cy="1027.7" r="3.6" fill="none" stroke="#e01616" stroke-width="1.2"/>
<circle cx="335.0" cy="1024.2" r="3.6" fill="none" stroke="#e01616" stroke-width="1.2"/>
<circle cx="339.9" cy="1020.5" r="3.6" fill="none" stroke="#e01616" stroke-width="1.2"/>
<circle cx="344.5" cy="1017.0" r="3.6" fill="none" stroke="#e01616" stroke-width="1.2"/>
<line x1="179.40" y1="1099.30" x2="377.20" y2="1002.80" stroke="#e01616" stroke-width="3.2" stroke-linecap="round" />
<line x1="140.10" y1="1150.00" x2="463.60" y2="1054.20" stroke="#22ee22" stroke-width="3.2" stroke-linecap="round" />
<circle cx="171.0" cy="1149.3" r="3.5" fill="none" stroke="#22ee22" stroke-width="1.2"/>
<circle cx="173.2" cy="1147.7" r="3.5" fill="none" stroke="#22ee22" stroke-width="1.2"/>
<circle cx="176.4" cy="1145.2" r="3.5" fill="none" stroke="#22ee22" stroke-width="1.2"/>
<circle cx="179.6" cy="1142.8" r="3.5" fill="none" stroke="#22ee22" stroke-width="1.2"/>
<circle cx="183.7" cy="1140.5" r="3.5" fill="none" stroke="#22ee22" stroke-width="1.2"/>
<circle cx="188.5" cy="1137.9" r="3.5" fill="none" stroke="#22ee22" stroke-width="1.2"/>
<circle cx="192.6" cy="1135.7" r="3.5" fill="none" stroke="#22ee22" stroke-width="1.2"/>
<circle cx="198.3" cy="1133.6" r="3.5" fill="none" stroke="#22ee22" stroke-width="1.2"/>
<circle cx="203.3" cy="1131.7" r="3.5" fill="none" stroke="#22ee22" stroke-width="1.2"/>
<circle cx="209.1" cy="1129.8" r="3.5" fill="none" stroke="#22ee22" stroke-width="1.2"/>
<circle cx="214.9" cy="1128.1" r="3.5" fill="none" stroke="#22ee22" stroke-width="1.2"/>
<circle cx="220.7" cy="1126.4" r="3.5" fill="none" stroke="#22ee22" stroke-width="1.2"/>
<circle cx="226.6" cy="1124.8" r="3.5" fill="none" stroke="#22ee22" stroke-width="1.2"/>
<circle cx="233.0" cy="1122.9" r="3.5" fill="none" stroke="#22ee22" stroke-width="1.2"/>
<circle cx="239.5" cy="1121.0" r="3.5" fill="none" stroke="#22ee22" stroke-width="1.2"/>
<circle cx="246.0" cy="1119.2" r="3.5" fill="none" stroke="#22ee22" stroke-width="1.2"/>
<circle cx="252.5" cy="1117.3" r="3.5" fill="none" stroke="#22ee22" stroke-width="1.2"/>
<circle cx="259.0" cy="1115.6" r="3.5" fill="none" stroke="#22ee22" stroke-width="1.2"/>
<circle cx="266.1" cy="1113.6" r="3.5" fill="none" stroke="#22ee22" stroke-width="1.2"/>
<circle cx="272.6" cy="1111.9" r="3.5" fill="none" stroke="#22ee22" stroke-width="1.2"/>
<circle cx="279.8" cy="1110.0" r="3.5" fill="none" stroke="#22ee22" stroke-width="1.2"/>
<circle cx="286.9" cy="1108.0" r="3.5" fill="none" stroke="#22ee22" stroke-width="1.2"/>
<circle cx="294.1" cy="1106.1" r="3.5" fill="none" stroke="#22ee22" stroke-width="1.2"/>
<circle cx="301.2" cy="1104.1" r="3.5" fill="none" stroke="#22ee22" stroke-width="1.2"/>
<circle cx="308.4" cy="1102.1" r="3.5" fill="none" stroke="#22ee22" stroke-width="1.2"/>
<circle cx="316.1" cy="1099.8" r="3.5" fill="none" stroke="#22ee22" stroke-width="1.2"/>
<circle cx="323.2" cy="1097.8" r="3.5" fill="none" stroke="#22ee22" stroke-width="1.2"/>
<circle cx="331.0" cy="1095.5" r="3.5" fill="none" stroke="#22ee22" stroke-width="1.2"/>
<circle cx="338.8" cy="1093.3" r="3.5" fill="none" stroke="#22ee22" stroke-width="1.2"/>
<circle cx="346.5" cy="1091.0" r="3.5" fill="none" stroke="#22ee22" stroke-width="1.2"/>
<circle cx="353.6" cy="1088.8" r="3.5" fill="none" stroke="#22ee22" stroke-width="1.2"/>
<circle cx="361.3" cy="1086.3" r="3.5" fill="none" stroke="#22ee22" stroke-width="1.2"/>
<circle cx="369.6" cy="1083.5" r="3.5" fill="none" stroke="#22ee22" stroke-width="1.2"/>
<circle cx="377.3" cy="1081.0" r="3.5" fill="none" stroke="#22ee22" stroke-width="1.2"/>
<circle cx="385.0" cy="1078.5" r="3.5" fill="none" stroke="#22ee22" stroke-width="1.2"/>
<circle cx="393.3" cy="1075.7" r="3.5" fill="none" stroke="#22ee22" stroke-width="1.2"/>
<circle cx="400.9" cy="1073.1" r="3.5" fill="none" stroke="#22ee22" stroke-width="1.2"/>
<circle cx="408.8" cy="1069.3" r="3.5" fill="none" stroke="#22ee22" stroke-width="1.2"/>
<circle cx="416.1" cy="1065.8" r="3.5" fill="none" stroke="#22ee22" stroke-width="1.2"/>
<circle cx="424.0" cy="1062.0" r="3.5" fill="none" stroke="#22ee22" stroke-width="1.2"/>
<line x1="116.10" y1="1203.90" x2="473.30" y2="1101.90" stroke="#000" stroke-width="2.8" stroke-linecap="round" />
<path d="M145.50,1209.50 C147.23,1207.98 152.02,1203.65 155.90,1200.40 C159.78,1197.15 164.50,1193.02 168.80,1190.00 C173.10,1186.98 179.55,1183.58 181.70,1182.30" fill="none" stroke="#000" stroke-width="7.5" stroke-linecap="round" stroke-linejoin="round" />
<circle cx="145.5" cy="1209.5" r="4.2" fill="#000"/>
<circle cx="149.9" cy="1205.6" r="4.2" fill="#000"/>
<circle cx="154.4" cy="1201.7" r="4.2" fill="#000"/>
<circle cx="159.5" cy="1197.5" r="4.2" fill="#000"/>
<circle cx="165.2" cy="1192.9" r="4.2" fill="#000"/>
<circle cx="170.5" cy="1189.0" r="4.2" fill="#000"/>
<circle cx="176.8" cy="1185.2" r="4.2" fill="#000"/>
<circle cx="183.3" cy="1181.7" r="4.2" fill="#000"/>
<circle cx="190.3" cy="1179.3" r="4.2" fill="#000"/>
<circle cx="197.2" cy="1176.9" r="4.2" fill="#000"/>
<circle cx="204.8" cy="1174.2" r="4.2" fill="#000"/>
<circle cx="211.9" cy="1172.1" r="4.2" fill="#000"/>
<circle cx="219.8" cy="1170.2" r="4.2" fill="#000"/>
<circle cx="226.9" cy="1168.4" r="4.2" fill="#000"/>
<circle cx="234.8" cy="1166.5" r="4.2" fill="#000"/>
<circle cx="242.6" cy="1164.5" r="4.2" fill="#000"/>
<circle cx="250.5" cy="1162.5" r="4.2" fill="#000"/>
<circle cx="258.3" cy="1160.6" r="4.2" fill="#000"/>
<circle cx="266.3" cy="1158.9" r="4.2" fill="#000"/>
<circle cx="274.2" cy="1157.3" r="4.2" fill="#000"/>
<circle cx="282.1" cy="1155.7" r="4.2" fill="#000"/>
<circle cx="290.1" cy="1154.1" r="4.2" fill="#000"/>
<circle cx="298.0" cy="1152.6" r="4.2" fill="#000"/>
<circle cx="306.7" cy="1150.9" r="4.2" fill="#000"/>
<circle cx="314.6" cy="1149.1" r="4.2" fill="#000"/>
<circle cx="322.5" cy="1147.1" r="4.2" fill="#000"/>
<circle cx="331.0" cy="1145.0" r="4.2" fill="#000"/>
<circle cx="338.9" cy="1143.0" r="4.2" fill="#000"/>
<circle cx="347.5" cy="1140.9" r="4.2" fill="#000"/>
<circle cx="355.3" cy="1138.9" r="4.2" fill="#000"/>
<circle cx="363.9" cy="1136.7" r="4.2" fill="#000"/>
<circle cx="371.6" cy="1134.4" r="4.2" fill="#000"/>
<circle cx="380.1" cy="1131.9" r="4.2" fill="#000"/>
<circle cx="388.6" cy="1129.3" r="4.2" fill="#000"/>
<circle cx="396.9" cy="1126.4" r="4.2" fill="#000"/>
<circle cx="404.5" cy="1123.6" r="4.2" fill="#000"/>
<circle cx="412.8" cy="1120.6" r="4.2" fill="#000"/>
<circle cx="421.1" cy="1117.6" r="4.2" fill="#000"/>
<text transform="translate(167.40,890.50) rotate(-34.60) scale(0.9746,1) translate(0.17,0)" font-size="16.50" fill="#7a1515" stroke="#7a1515" stroke-width="0.45"><tspan font-style="italic">Hm</tspan><tspan >-TiO</tspan><tspan font-size="9.90" dy="5.28">2</tspan><tspan dy="-5.28">,</tspan><tspan >  =112 mV/dec</tspan></text>
<text transform="translate(176.00,993.70) rotate(-30.00) scale(0.9431,1) translate(0.17,0)" font-size="16.50" fill="#2020d0" stroke="#2020d0" stroke-width="0.45"><tspan font-style="italic">Lsm</tspan><tspan >-TiO</tspan><tspan font-size="9.90" dy="5.28">2</tspan><tspan dy="-5.28">@2.0   =98 mV/dec</tspan></text>
<text transform="translate(244.50,1041.20) rotate(-24.10) scale(0.9534,1) translate(0.17,0)" font-size="16.50" fill="#e02828" stroke="#e02828" stroke-width="0.45"><tspan font-style="italic">Lsm</tspan><tspan >-TiO</tspan><tspan font-size="9.90" dy="5.28">2</tspan><tspan dy="-5.28">@1.0   =87 mV/dec</tspan></text>
<text transform="translate(260.90,1097.70) rotate(-19.30) scale(0.9777,1) translate(0.17,0)" font-size="16.50" fill="#30e030" stroke="#30e030" stroke-width="0.45"><tspan font-style="italic">Lsm</tspan><tspan >-TiO</tspan><tspan font-size="9.90" dy="5.28">2</tspan><tspan dy="-5.28">@1.5 (1.0 M KOH)  = 51 mV/dec</tspan></text>
<text transform="translate(242.40,1201.00) rotate(-14.50) scale(0.9708,1) translate(0.17,0)" font-size="16.50" fill="#333" stroke="#333" stroke-width="0.45"><tspan font-style="italic">Lsm</tspan><tspan >-TiO</tspan><tspan font-size="9.90" dy="5.28">2</tspan><tspan dy="-5.28">@1.5 (5.0 M KOH)  = 45 mV/dec</tspan></text>
<line x1="622.80" y1="793.80" x2="622.80" y2="1203.60" stroke="#f08080" stroke-width="2.2" stroke-linecap="butt" />
<line x1="616.00" y1="1203.80" x2="622.80" y2="1203.80" stroke="#f08080" stroke-width="2" stroke-linecap="butt" />
<line x1="616.00" y1="1086.90" x2="622.80" y2="1086.90" stroke="#f08080" stroke-width="2" stroke-linecap="butt" />
<line x1="616.00" y1="970.00" x2="622.80" y2="970.00" stroke="#f08080" stroke-width="2" stroke-linecap="butt" />
<line x1="616.00" y1="853.10" x2="622.80" y2="853.10" stroke="#f08080" stroke-width="2" stroke-linecap="butt" />
<line x1="619.00" y1="1145.35" x2="622.80" y2="1145.35" stroke="#f08080" stroke-width="2" stroke-linecap="butt" />
<line x1="619.00" y1="1028.45" x2="622.80" y2="1028.45" stroke="#f08080" stroke-width="2" stroke-linecap="butt" />
<line x1="619.00" y1="911.55" x2="622.80" y2="911.55" stroke="#f08080" stroke-width="2" stroke-linecap="butt" />
<line x1="619.00" y1="794.65" x2="622.80" y2="794.65" stroke="#f08080" stroke-width="2" stroke-linecap="butt" />
<text transform="translate(603.07,1209.10) scale(1.0000,1) translate(-0.66,0)" font-size="16.50" fill="#e04040" stroke="#e04040" stroke-width="0.5"><tspan >0</tspan></text>
<text transform="translate(595.56,1092.20) scale(1.0000,1) translate(-1.40,0)" font-size="16.50" fill="#e04040" stroke="#e04040" stroke-width="0.5"><tspan >10</tspan></text>
<text transform="translate(594.90,975.30) scale(1.0000,1) translate(-0.74,0)" font-size="16.50" fill="#e04040" stroke="#e04040" stroke-width="0.5"><tspan >20</tspan></text>
<text transform="translate(594.90,858.40) scale(1.0000,1) translate(-0.74,0)" font-size="16.50" fill="#e04040" stroke="#e04040" stroke-width="0.5"><tspan >30</tspan></text>
<line x1="1131.20" y1="792.40" x2="1131.20" y2="1204.60" stroke="#777" stroke-width="2.2" stroke-linecap="butt" />
<line x1="1124.00" y1="1203.30" x2="1131.20" y2="1203.30" stroke="#777" stroke-width="2" stroke-linecap="butt" />
<line x1="1124.00" y1="1066.50" x2="1131.20" y2="1066.50" stroke="#777" stroke-width="2" stroke-linecap="butt" />
<line x1="1124.00" y1="929.70" x2="1131.20" y2="929.70" stroke="#777" stroke-width="2" stroke-linecap="butt" />
<line x1="1124.00" y1="792.90" x2="1131.20" y2="792.90" stroke="#777" stroke-width="2" stroke-linecap="butt" />
<line x1="1127.00" y1="1134.90" x2="1131.20" y2="1134.90" stroke="#777" stroke-width="2" stroke-linecap="butt" />
<line x1="1127.00" y1="998.10" x2="1131.20" y2="998.10" stroke="#777" stroke-width="2" stroke-linecap="butt" />
<line x1="1127.00" y1="861.30" x2="1131.20" y2="861.30" stroke="#777" stroke-width="2" stroke-linecap="butt" />
<text transform="translate(1140.40,1207.80) scale(1.1056,1) translate(-1.19,0)" font-size="14.00" fill="#444" stroke="#444" stroke-width="0.3"><tspan >1.4</tspan></text>
<text transform="translate(1140.40,1071.00) scale(1.1202,1) translate(-1.19,0)" font-size="14.00" fill="#444" stroke="#444" stroke-width="0.3"><tspan >1.6</tspan></text>
<text transform="translate(1140.40,934.20) scale(1.1302,1) translate(-1.19,0)" font-size="14.00" fill="#444" stroke="#444" stroke-width="0.3"><tspan >1.8</tspan></text>
<text transform="translate(1140.40,797.40) scale(1.0914,1) translate(-0.63,0)" font-size="14.00" fill="#444" stroke="#444" stroke-width="0.3"><tspan >2.0</tspan></text>
<line x1="622.80" y1="1203.60" x2="1131.20" y2="1203.60" stroke="#444" stroke-width="2.2" stroke-linecap="butt" />
<line x1="627.00" y1="1203.60" x2="627.00" y2="1210.00" stroke="#444" stroke-width="2" stroke-linecap="butt" />
<line x1="709.66" y1="1203.60" x2="709.66" y2="1210.00" stroke="#444" stroke-width="2" stroke-linecap="butt" />
<line x1="792.32" y1="1203.60" x2="792.32" y2="1210.00" stroke="#444" stroke-width="2" stroke-linecap="butt" />
<line x1="874.98" y1="1203.60" x2="874.98" y2="1210.00" stroke="#444" stroke-width="2" stroke-linecap="butt" />
<line x1="957.64" y1="1203.60" x2="957.64" y2="1210.00" stroke="#444" stroke-width="2" stroke-linecap="butt" />
<line x1="1040.30" y1="1203.60" x2="1040.30" y2="1210.00" stroke="#444" stroke-width="2" stroke-linecap="butt" />
<line x1="1122.96" y1="1203.60" x2="1122.96" y2="1210.00" stroke="#444" stroke-width="2" stroke-linecap="butt" />
<line x1="668.33" y1="1203.60" x2="668.33" y2="1207.00" stroke="#444" stroke-width="2" stroke-linecap="butt" />
<line x1="750.99" y1="1203.60" x2="750.99" y2="1207.00" stroke="#444" stroke-width="2" stroke-linecap="butt" />
<line x1="833.65" y1="1203.60" x2="833.65" y2="1207.00" stroke="#444" stroke-width="2" stroke-linecap="butt" />
<line x1="916.31" y1="1203.60" x2="916.31" y2="1207.00" stroke="#444" stroke-width="2" stroke-linecap="butt" />
<line x1="998.97" y1="1203.60" x2="998.97" y2="1207.00" stroke="#444" stroke-width="2" stroke-linecap="butt" />
<line x1="1081.63" y1="1203.60" x2="1081.63" y2="1207.00" stroke="#444" stroke-width="2" stroke-linecap="butt" />
<text transform="translate(623.80,1228.30) scale(1.0500,1) translate(-0.58,0)" font-size="14.50" fill="#333" stroke="#333" stroke-width="0.3"><tspan >0</tspan></text>
<text transform="translate(706.62,1228.30) scale(1.0500,1) translate(-0.65,0)" font-size="14.50" fill="#333" stroke="#333" stroke-width="0.3"><tspan >2</tspan></text>
<text transform="translate(788.78,1228.30) scale(1.0500,1) translate(-0.29,0)" font-size="14.50" fill="#333" stroke="#333" stroke-width="0.3"><tspan >4</tspan></text>
<text transform="translate(871.71,1228.30) scale(1.0500,1) translate(-0.58,0)" font-size="14.50" fill="#333" stroke="#333" stroke-width="0.3"><tspan >6</tspan></text>
<text transform="translate(954.44,1228.30) scale(1.0500,1) translate(-0.58,0)" font-size="14.50" fill="#333" stroke="#333" stroke-width="0.3"><tspan >8</tspan></text>
<text transform="translate(1033.64,1228.30) scale(1.0500,1) translate(-1.23,0)" font-size="14.50" fill="#333" stroke="#333" stroke-width="0.3"><tspan >10</tspan></text>
<text transform="translate(1116.41,1228.30) scale(1.0500,1) translate(-1.23,0)" font-size="14.50" fill="#333" stroke="#333" stroke-width="0.3"><tspan >12</tspan></text>
<text transform="translate(830.00,1261.40) scale(0.9838,1) translate(-0.44,0)" font-size="22.00" fill="#111" stroke="#111" stroke-width="0.3"><tspan >Time, hour</tspan></text>
<text transform="translate(578.80,1033.00) rotate(-90.00) scale(1.0190,1) translate(-0.68,0)" font-size="17.00" fill="#e03535" stroke="#e03535" stroke-width="0.3"><tspan >Current, mA/cm</tspan><tspan font-size="9.35" dy="-8.50">2</tspan></text>
<text transform="translate(1192.40,1031.60) rotate(-90.00) scale(0.9636,1) translate(-0.53,0)" font-size="17.50" fill="#222" stroke="#222" stroke-width="0.3"><tspan >Potential vs. RHE/ V</tspan></text>
<text transform="translate(1025.60,822.00) scale(1.2037,1) translate(-0.99,0)" font-size="22.00" fill="#222" stroke="#222" stroke-width="0.3"><tspan >(d)</tspan></text>
<text transform="translate(730.00,812.30) scale(1.0197,1) translate(-1.36,0)" font-size="16.00" fill="#e01616" stroke="#e01616" stroke-width="0.3"><tspan >1.85 V</tspan></text>
<text transform="translate(715.00,1106.30) scale(1.0509,1) translate(-1.36,0)" font-size="16.00" fill="#e01616" stroke="#e01616" stroke-width="0.3"><tspan >1.65 V</tspan></text>
<text transform="translate(948.50,892.40) scale(1.1203,1) translate(-0.93,0)" font-size="15.50" fill="#111" stroke="#111" stroke-width="0.3"><tspan >50 mA/cm</tspan><tspan font-size="7.75" dy="-9.30">2</tspan></text>
<text transform="translate(944.80,1018.80) scale(1.1271,1) translate(-1.32,0)" font-size="15.50" fill="#111" stroke="#111" stroke-width="0.3"><tspan >10 mA/cm</tspan><tspan font-size="7.75" dy="-9.30">2</tspan></text>
<path d="M627,836 L627,1203.6" fill="none" stroke="#000" stroke-width="2.2" stroke-linecap="butt" stroke-linejoin="round" />
<path d="M627.30,853.00 L627.61,851.38 L627.90,849.71 L628.19,848.01 L628.51,846.28 L628.86,844.55 L629.26,842.83 L629.72,841.14 L630.24,839.48 L630.85,837.88 L631.55,836.35 L632.36,834.89 L633.28,833.54 L634.32,832.28 L635.46,831.12 L636.70,830.06 L638.02,829.09 L639.43,828.21 L640.90,827.43 L642.44,826.73 L644.03,826.13 L645.67,825.61 L647.34,825.18 L649.04,824.83 L650.76,824.55 L652.51,824.34 L654.28,824.18 L656.05,824.07 L657.84,823.99 L659.63,823.95 L661.42,823.92 L663.20,823.91 L664.98,823.90 L666.75,823.89 L668.50,823.86 L670.24,823.83 L671.96,823.78 L673.68,823.73 L675.39,823.67 L677.09,823.61 L678.79,823.55 L680.49,823.49 L682.19,823.43 L683.89,823.38 L685.60,823.33 L687.30,823.29 L689.01,823.25 L690.71,823.21 L692.42,823.17 L694.13,823.14 L695.84,823.11 L697.55,823.09 L699.26,823.07 L700.97,823.05 L702.68,823.03 L704.39,823.01 L706.11,823.00 L707.82,822.99 L709.54,822.98 L711.25,822.98 L712.97,822.97 L714.68,822.97 L716.40,822.97 L718.12,822.97 L719.84,822.97 L721.55,822.97 L723.27,822.98 L724.99,822.99 L726.71,822.99 L728.43,823.00 L730.15,823.01 L731.87,823.02 L733.59,823.03 L735.31,823.04 L737.03,823.05 L738.75,823.06 L740.47,823.07 L742.19,823.09 L743.91,823.10 L745.63,823.11 L747.35,823.12 L749.07,823.13 L750.79,823.15 L752.51,823.16 L754.23,823.17 L755.95,823.18 L757.67,823.19 L759.39,823.20 L761.10,823.21 L762.82,823.22 L764.54,823.23 L766.26,823.24 L767.98,823.26 L769.70,823.27 L771.42,823.28 L773.14,823.29 L774.86,823.30 L776.58,823.31 L778.29,823.32 L780.01,823.33 L781.73,823.34 L783.45,823.34 L785.17,823.35 L786.89,823.36 L788.60,823.37 L790.32,823.38 L792.04,823.39 L793.76,823.40 L795.48,823.41 L797.20,823.42 L798.91,823.43 L800.63,823.43 L802.35,823.44 L804.07,823.45 L805.79,823.46 L807.50,823.47 L809.22,823.48 L810.94,823.48 L812.66,823.49 L814.38,823.50 L816.09,823.51 L817.81,823.51 L819.53,823.52 L821.25,823.53 L822.96,823.53 L824.68,823.54 L826.40,823.55 L828.12,823.56 L829.83,823.56 L831.55,823.57 L833.27,823.57 L834.99,823.58 L836.70,823.59 L838.42,823.59 L840.14,823.60 L841.86,823.61 L843.57,823.61 L845.29,823.62 L847.01,823.62 L848.73,823.63 L850.44,823.63 L852.16,823.64 L853.88,823.64 L855.60,823.65 L857.31,823.65 L859.03,823.66 L860.75,823.66 L862.47,823.67 L864.18,823.67 L865.90,823.67 L867.62,823.68 L869.34,823.68 L871.05,823.69 L872.77,823.69 L874.49,823.69 L876.21,823.70 L877.93,823.70 L879.64,823.70 L881.36,823.71 L883.08,823.71 L884.80,823.71 L886.51,823.72 L888.23,823.72 L889.95,823.72 L891.67,823.72 L893.39,823.73 L895.10,823.73 L896.82,823.73 L898.54,823.73 L900.26,823.74 L901.97,823.74 L903.69,823.74 L905.41,823.74 L907.13,823.74 L908.85,823.74 L910.56,823.75 L912.28,823.75 L914.00,823.75 L915.72,823.75 L917.44,823.75 L919.15,823.75 L920.87,823.75 L922.59,823.75 L924.31,823.75 L926.03,823.75 L927.74,823.76 L929.46,823.76 L931.18,823.76 L932.90,823.76 L934.62,823.76 L936.33,823.76 L938.05,823.76 L939.77,823.76 L941.49,823.76 L943.21,823.76 L944.92,823.76 L946.64,823.76 L948.36,823.76 L950.08,823.76 L951.80,823.76 L953.51,823.76 L955.23,823.75 L956.95,823.75 L958.67,823.75 L960.39,823.75 L962.10,823.75 L963.82,823.75 L965.54,823.75 L967.26,823.75 L968.98,823.75 L970.70,823.75 L972.41,823.75 L974.13,823.75 L975.85,823.74 L977.57,823.74 L979.29,823.74 L981.00,823.74 L982.72,823.74 L984.44,823.74 L986.16,823.74 L987.88,823.74 L989.60,823.73 L991.31,823.73 L993.03,823.73 L994.75,823.73 L996.47,823.73 L998.19,823.73 L999.90,823.72 L1001.62,823.72 L1003.34,823.72 L1005.06,823.72 L1006.78,823.72 L1008.50,823.72 L1010.21,823.71 L1011.93,823.71 L1013.65,823.71 L1015.37,823.71 L1017.09,823.71 L1018.80,823.70 L1020.52,823.70 L1022.24,823.70 L1023.96,823.70 L1025.68,823.70 L1027.40,823.69 L1029.11,823.69 L1030.83,823.69 L1032.55,823.69 L1034.27,823.69 L1035.99,823.68 L1037.70,823.68 L1039.42,823.68 L1041.14,823.68 L1042.86,823.68 L1044.58,823.67 L1046.29,823.67 L1048.01,823.67 L1049.73,823.67 L1051.45,823.67 L1053.17,823.66 L1054.88,823.66 L1056.60,823.66 L1058.32,823.66 L1060.04,823.66 L1061.76,823.65 L1063.48,823.65 L1065.19,823.65 L1066.91,823.65 L1068.63,823.65 L1070.35,823.64 L1072.07,823.64 L1073.78,823.64 L1075.50,823.64 L1077.22,823.64 L1078.94,823.64 L1080.65,823.63 L1082.37,823.63 L1084.09,823.63 L1085.81,823.63 L1087.53,823.63 L1089.24,823.63 L1090.96,823.62 L1092.68,823.62 L1094.40,823.62 L1096.12,823.62 L1097.83,823.62 L1099.55,823.62 L1101.27,823.61 L1102.99,823.61 L1104.70,823.61 L1106.42,823.61 L1108.14,823.61 L1109.86,823.61 L1111.58,823.61 L1113.29,823.61 L1115.01,823.61 L1116.73,823.60 L1118.45,823.60 L1120.16,823.60 L1121.88,823.60 L1123.60,823.60" fill="none" stroke="#e81818" stroke-width="2.4" stroke-linecap="round" stroke-linejoin="round" />
<path d="M627.00,845.00 L627.26,846.62 L627.44,848.30 L627.59,850.04 L627.73,851.81 L627.88,853.61 L628.06,855.41 L628.30,857.19 L628.60,858.95 L628.98,860.66 L629.47,862.30 L630.06,863.87 L630.77,865.35 L631.62,866.73 L632.59,867.99 L633.68,869.16 L634.88,870.22 L636.18,871.20 L637.58,872.08 L639.05,872.89 L640.59,873.61 L642.20,874.26 L643.86,874.85 L645.56,875.37 L647.29,875.84 L649.05,876.25 L650.82,876.62 L652.59,876.95 L654.36,877.24 L656.12,877.49 L657.89,877.71 L659.64,877.90 L661.40,878.06 L663.15,878.19 L664.90,878.30 L666.65,878.38 L668.40,878.44 L670.14,878.47 L671.88,878.49 L673.62,878.50 L675.36,878.49 L677.10,878.46 L678.83,878.43 L680.57,878.38 L682.30,878.33 L684.03,878.27 L685.77,878.21 L687.50,878.14 L689.23,878.08 L690.96,878.02 L692.69,877.95 L694.42,877.89 L696.16,877.83 L697.89,877.77 L699.62,877.70 L701.35,877.64 L703.08,877.58 L704.81,877.51 L706.54,877.45 L708.27,877.39 L710.00,877.32 L711.73,877.26 L713.46,877.20 L715.19,877.13 L716.92,877.07 L718.65,877.00 L720.38,876.94 L722.11,876.87 L723.84,876.81 L725.57,876.75 L727.30,876.68 L729.03,876.61 L730.76,876.55 L732.49,876.48 L734.22,876.42 L735.94,876.35 L737.67,876.28 L739.40,876.21 L741.13,876.15 L742.86,876.08 L744.59,876.01 L746.32,875.94 L748.05,875.87 L749.78,875.80 L751.51,875.73 L753.24,875.66 L754.97,875.59 L756.70,875.51 L758.43,875.44 L760.15,875.37 L761.88,875.29 L763.61,875.22 L765.34,875.14 L767.07,875.07 L768.80,874.99 L770.53,874.92 L772.26,874.84 L773.99,874.77 L775.72,874.69 L777.45,874.61 L779.18,874.53 L780.91,874.46 L782.64,874.38 L784.37,874.30 L786.10,874.22 L787.83,874.14 L789.56,874.06 L791.29,873.98 L793.02,873.90 L794.75,873.82 L796.48,873.74 L798.21,873.66 L799.94,873.58 L801.67,873.50 L803.40,873.42 L805.13,873.34 L806.86,873.26 L808.59,873.18 L810.32,873.09 L812.05,873.01 L813.78,872.93 L815.51,872.85 L817.24,872.77 L818.97,872.69 L820.70,872.60 L822.43,872.52 L824.16,872.44 L825.89,872.36 L827.62,872.28 L829.35,872.20 L831.08,872.11 L832.81,872.03 L834.54,871.95 L836.27,871.87 L838.00,871.79 L839.73,871.71 L841.46,871.62 L843.20,871.54 L844.93,871.46 L846.66,871.38 L848.39,871.30 L850.12,871.22 L851.85,871.14 L853.58,871.06 L855.31,870.98 L857.04,870.90 L858.77,870.82 L860.50,870.74 L862.23,870.66 L863.96,870.59 L865.69,870.51 L867.42,870.43 L869.15,870.35 L870.88,870.27 L872.61,870.20 L874.34,870.12 L876.07,870.04 L877.80,869.97 L879.54,869.89 L881.27,869.82 L883.00,869.74 L884.73,869.67 L886.46,869.59 L888.19,869.52 L889.92,869.45 L891.65,869.37 L893.38,869.30 L895.11,869.23 L896.84,869.16 L898.57,869.08 L900.30,869.01 L902.03,868.94 L903.76,868.87 L905.49,868.80 L907.22,868.73 L908.95,868.66 L910.68,868.59 L912.42,868.52 L914.15,868.45 L915.88,868.39 L917.61,868.32 L919.34,868.25 L921.07,868.18 L922.80,868.12 L924.53,868.05 L926.26,867.98 L927.99,867.92 L929.72,867.85 L931.45,867.79 L933.18,867.72 L934.91,867.66 L936.64,867.59 L938.37,867.53 L940.11,867.46 L941.84,867.40 L943.57,867.34 L945.30,867.27 L947.03,867.21 L948.76,867.15 L950.49,867.09 L952.22,867.02 L953.95,866.96 L955.68,866.90 L957.41,866.84 L959.14,866.78 L960.87,866.72 L962.60,866.66 L964.33,866.60 L966.07,866.54 L967.80,866.48 L969.53,866.42 L971.26,866.36 L972.99,866.30 L974.72,866.25 L976.45,866.19 L978.18,866.13 L979.91,866.07 L981.64,866.01 L983.37,865.96 L985.10,865.90 L986.84,865.84 L988.57,865.79 L990.30,865.73 L992.03,865.68 L993.76,865.62 L995.49,865.57 L997.22,865.51 L998.95,865.46 L1000.68,865.40 L1002.41,865.35 L1004.14,865.29 L1005.87,865.24 L1007.61,865.18 L1009.34,865.13 L1011.07,865.08 L1012.80,865.03 L1014.53,864.97 L1016.26,864.92 L1017.99,864.87 L1019.72,864.82 L1021.45,864.76 L1023.18,864.71 L1024.92,864.66 L1026.65,864.61 L1028.38,864.56 L1030.11,864.51 L1031.84,864.46 L1033.57,864.41 L1035.30,864.36 L1037.03,864.31 L1038.76,864.26 L1040.50,864.21 L1042.23,864.16 L1043.96,864.11 L1045.69,864.06 L1047.42,864.01 L1049.15,863.96 L1050.88,863.91 L1052.61,863.86 L1054.34,863.82 L1056.08,863.77 L1057.81,863.72 L1059.54,863.67 L1061.27,863.62 L1063.00,863.58 L1064.73,863.53 L1066.46,863.48 L1068.19,863.44 L1069.93,863.39 L1071.66,863.34 L1073.39,863.30 L1075.12,863.25 L1076.85,863.20 L1078.58,863.16 L1080.31,863.11 L1082.04,863.07 L1083.78,863.02 L1085.51,862.98 L1087.24,862.93 L1088.97,862.89 L1090.70,862.84 L1092.43,862.80 L1094.16,862.75 L1095.90,862.71 L1097.63,862.66 L1099.36,862.62 L1101.09,862.57 L1102.82,862.53 L1104.55,862.49 L1106.29,862.44 L1108.02,862.40 L1109.75,862.35 L1111.48,862.31 L1113.21,862.27 L1114.94,862.22 L1116.67,862.18 L1118.41,862.14 L1120.14,862.10 L1121.87,862.05 L1123.60,862.00" fill="none" stroke="#000" stroke-width="2.6" stroke-linecap="round" stroke-linejoin="round" />
<path d="M627.00,1000.00 C627.33,1002.50 628.08,1011.25 629.00,1015.00 C629.92,1018.75 630.67,1020.33 632.50,1022.50 C634.33,1024.67 637.08,1026.58 640.00,1028.00 C642.92,1029.42 642.08,1029.92 650.00,1031.00 C657.92,1032.08 670.83,1033.83 687.50,1034.50 C704.17,1035.17 722.92,1034.93 750.00,1035.00 C777.08,1035.07 808.33,1035.40 850.00,1034.90 C891.67,1034.40 954.40,1033.07 1000.00,1032.00 C1045.60,1030.93 1103.00,1029.08 1123.60,1028.50" fill="none" stroke="#000" stroke-width="2.6" stroke-linecap="round" stroke-linejoin="round" />
<path d="M627.00,1150.00 L627.23,1148.24 L627.43,1146.47 L627.61,1144.70 L627.77,1142.91 L627.91,1141.11 L628.05,1139.32 L628.20,1137.52 L628.36,1135.72 L628.53,1133.93 L628.74,1132.14 L628.98,1130.36 L629.27,1128.59 L629.60,1126.84 L630.00,1125.10 L630.46,1123.38 L630.99,1121.69 L631.59,1120.02 L632.25,1118.38 L632.98,1116.77 L633.78,1115.20 L634.65,1113.67 L635.59,1112.18 L636.59,1110.74 L637.66,1109.35 L638.80,1108.02 L640.00,1106.73 L641.26,1105.50 L642.57,1104.33 L643.93,1103.20 L645.32,1102.12 L646.75,1101.09 L648.22,1100.10 L649.71,1099.16 L651.24,1098.26 L652.79,1097.40 L654.37,1096.58 L655.98,1095.79 L657.61,1095.05 L659.26,1094.34 L660.93,1093.66 L662.62,1093.01 L664.32,1092.40 L666.03,1091.81 L667.76,1091.25 L669.49,1090.71 L671.24,1090.20 L672.99,1089.72 L674.74,1089.25 L676.50,1088.81 L678.25,1088.38 L680.01,1087.97 L681.77,1087.58 L683.53,1087.21 L685.30,1086.86 L687.06,1086.52 L688.83,1086.20 L690.59,1085.89 L692.36,1085.60 L694.13,1085.33 L695.90,1085.06 L697.68,1084.82 L699.45,1084.58 L701.22,1084.36 L703.00,1084.16 L704.78,1083.96 L706.55,1083.78 L708.33,1083.61 L710.11,1083.45 L711.89,1083.29 L713.67,1083.15 L715.45,1083.02 L717.23,1082.90 L719.02,1082.79 L720.80,1082.68 L722.58,1082.58 L724.37,1082.49 L726.15,1082.40 L727.94,1082.33 L729.72,1082.25 L731.51,1082.18 L733.30,1082.12 L735.08,1082.06 L736.87,1082.01 L738.66,1081.96 L740.44,1081.91 L742.23,1081.86 L744.02,1081.82 L745.81,1081.78 L747.59,1081.75 L749.38,1081.71 L751.17,1081.68 L752.96,1081.66 L754.75,1081.63 L756.53,1081.61 L758.32,1081.59 L760.11,1081.57 L761.90,1081.56 L763.69,1081.55 L765.48,1081.54 L767.27,1081.53 L769.06,1081.53 L770.85,1081.53 L772.64,1081.53 L774.42,1081.53 L776.21,1081.54 L778.00,1081.54 L779.79,1081.55 L781.58,1081.56 L783.37,1081.58 L785.16,1081.59 L786.95,1081.61 L788.74,1081.63 L790.53,1081.65 L792.32,1081.67 L794.11,1081.70 L795.91,1081.72 L797.70,1081.75 L799.49,1081.78 L801.28,1081.81 L803.07,1081.84 L804.86,1081.87 L806.65,1081.91 L808.44,1081.94 L810.23,1081.98 L812.02,1082.02 L813.81,1082.06 L815.60,1082.10 L817.40,1082.14 L819.19,1082.18 L820.98,1082.23 L822.77,1082.27 L824.56,1082.32 L826.35,1082.36 L828.14,1082.41 L829.93,1082.46 L831.73,1082.51 L833.52,1082.56 L835.31,1082.61 L837.10,1082.66 L838.89,1082.71 L840.68,1082.76 L842.47,1082.81 L844.27,1082.86 L846.06,1082.91 L847.85,1082.96 L849.64,1083.01 L851.43,1083.07 L853.22,1083.12 L855.01,1083.17 L856.81,1083.22 L858.60,1083.28 L860.39,1083.33 L862.18,1083.38 L863.97,1083.43 L865.76,1083.48 L867.55,1083.53 L869.35,1083.58 L871.14,1083.63 L872.93,1083.68 L874.72,1083.73 L876.51,1083.78 L878.30,1083.83 L880.09,1083.88 L881.88,1083.93 L883.67,1083.97 L885.47,1084.02 L887.26,1084.07 L889.05,1084.11 L890.84,1084.16 L892.63,1084.20 L894.42,1084.25 L896.21,1084.29 L898.00,1084.34 L899.79,1084.38 L901.58,1084.43 L903.37,1084.47 L905.16,1084.52 L906.96,1084.56 L908.75,1084.60 L910.54,1084.64 L912.33,1084.69 L914.12,1084.73 L915.91,1084.77 L917.70,1084.81 L919.49,1084.85 L921.28,1084.89 L923.07,1084.94 L924.86,1084.98 L926.65,1085.02 L928.44,1085.06 L930.23,1085.10 L932.02,1085.14 L933.81,1085.18 L935.60,1085.22 L937.39,1085.26 L939.19,1085.29 L940.98,1085.33 L942.77,1085.37 L944.56,1085.41 L946.35,1085.45 L948.14,1085.49 L949.93,1085.53 L951.72,1085.56 L953.51,1085.60 L955.30,1085.64 L957.09,1085.68 L958.88,1085.72 L960.67,1085.75 L962.46,1085.79 L964.25,1085.83 L966.04,1085.87 L967.83,1085.90 L969.62,1085.94 L971.41,1085.98 L973.20,1086.01 L974.99,1086.05 L976.78,1086.09 L978.57,1086.12 L980.36,1086.16 L982.15,1086.20 L983.94,1086.23 L985.73,1086.27 L987.52,1086.31 L989.31,1086.35 L991.10,1086.38 L992.89,1086.42 L994.68,1086.46 L996.47,1086.49 L998.26,1086.53 L1000.05,1086.57 L1001.84,1086.60 L1003.63,1086.64 L1005.42,1086.68 L1007.21,1086.71 L1009.00,1086.75 L1010.79,1086.79 L1012.58,1086.83 L1014.37,1086.86 L1016.16,1086.90 L1017.95,1086.94 L1019.75,1086.98 L1021.54,1087.01 L1023.33,1087.05 L1025.12,1087.09 L1026.91,1087.13 L1028.70,1087.16 L1030.49,1087.20 L1032.28,1087.24 L1034.07,1087.28 L1035.86,1087.32 L1037.65,1087.36 L1039.44,1087.40 L1041.23,1087.44 L1043.02,1087.48 L1044.81,1087.52 L1046.60,1087.56 L1048.39,1087.60 L1050.18,1087.64 L1051.97,1087.68 L1053.76,1087.72 L1055.55,1087.76 L1057.34,1087.80 L1059.13,1087.84 L1060.92,1087.88 L1062.71,1087.92 L1064.50,1087.96 L1066.29,1088.01 L1068.08,1088.05 L1069.88,1088.09 L1071.67,1088.14 L1073.46,1088.18 L1075.25,1088.22 L1077.04,1088.27 L1078.83,1088.31 L1080.62,1088.36 L1082.41,1088.40 L1084.20,1088.45 L1085.99,1088.49 L1087.78,1088.54 L1089.57,1088.58 L1091.36,1088.63 L1093.15,1088.68 L1094.95,1088.72 L1096.74,1088.77 L1098.53,1088.82 L1100.32,1088.87 L1102.11,1088.92 L1103.90,1088.97 L1105.69,1089.01 L1107.48,1089.06 L1109.27,1089.11 L1111.06,1089.17 L1112.86,1089.22 L1114.65,1089.27 L1116.44,1089.32 L1118.23,1089.37 L1120.02,1089.42 L1121.81,1089.48 L1123.60,1089.50" fill="none" stroke="#e81818" stroke-width="2.4" stroke-linecap="round" stroke-linejoin="round" />
<line x1="1094.00" y1="867.50" x2="1122.78" y2="891.04" stroke="#000" stroke-width="1.8" stroke-linecap="butt" />
<path d="M1131.30,898.00 L1119.94,894.52 L1125.63,887.55 Z" fill="#000"/>
<line x1="1089.00" y1="1028.70" x2="1110.74" y2="1006.29" stroke="#000" stroke-width="1.8" stroke-linecap="butt" />
<path d="M1118.40,998.40 L1113.97,1009.43 L1107.51,1003.16 Z" fill="#000"/>
</svg>
</body></html>
